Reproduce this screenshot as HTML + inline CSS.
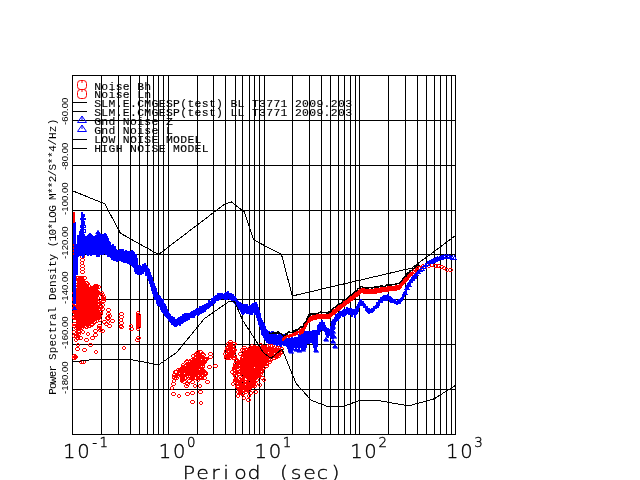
<!DOCTYPE html>
<html lang="en"><head><meta charset="utf-8"><title>Power Spectral Density</title>
<style>html,body{margin:0;padding:0;background:#fff;overflow:hidden}svg{display:block}text{font-family:"DejaVu Sans","Liberation Sans",sans-serif;font-weight:200;fill:#000}.m{font-family:"DejaVu Sans","Liberation Sans",sans-serif;font-weight:200}</style></head><body>
<svg width="640" height="480" viewBox="0 0 640 480">
<rect x="0" y="0" width="640" height="480" fill="#fff"/>
<text text-anchor="middle" x="97.60 104.77 111.94 119.11 126.28 133.45 140.62 147.79" y="89.50" style="font-family:'Liberation Mono','DejaVu Sans Mono',monospace;font-weight:400;font-size:11.4px;stroke:#000;stroke-width:0.12px">Noise Bh</text>
<text text-anchor="middle" x="97.60 104.77 111.94 119.11 126.28 133.45 140.62 147.79" y="98.46" style="font-family:'Liberation Mono','DejaVu Sans Mono',monospace;font-weight:400;font-size:11.4px;stroke:#000;stroke-width:0.12px">Noise Ln</text>
<text text-anchor="middle" x="97.60 104.77 111.94 119.11 126.28 133.45 140.62 147.79 154.96 162.13 169.30 176.47 183.64 190.81 197.98 205.15 212.32 219.49 226.66 233.83 241.00 248.17 255.34 262.51 269.68 276.85 284.02 291.19 298.36 305.53 312.70 319.87 327.04 334.21 341.38 348.55" y="107.42" style="font-family:'Liberation Mono','DejaVu Sans Mono',monospace;font-weight:400;font-size:11.4px;stroke:#000;stroke-width:0.12px">SLM.E.CMGESP(test) BL T3771 2009.203</text>
<text text-anchor="middle" x="97.60 104.77 111.94 119.11 126.28 133.45 140.62 147.79 154.96 162.13 169.30 176.47 183.64 190.81 197.98 205.15 212.32 219.49 226.66 233.83 241.00 248.17 255.34 262.51 269.68 276.85 284.02 291.19 298.36 305.53 312.70 319.87 327.04 334.21 341.38 348.55" y="116.38" style="font-family:'Liberation Mono','DejaVu Sans Mono',monospace;font-weight:400;font-size:11.4px;stroke:#000;stroke-width:0.12px">SLM.E.CMGESP(test) LL T3771 2009.203</text>
<text text-anchor="middle" x="97.60 104.77 111.94 119.11 126.28 133.45 140.62 147.79 154.96 162.13 169.30" y="125.34" style="font-family:'Liberation Mono','DejaVu Sans Mono',monospace;font-weight:400;font-size:11.4px;stroke:#000;stroke-width:0.12px">Gnd Noise Z</text>
<text text-anchor="middle" x="97.60 104.77 111.94 119.11 126.28 133.45 140.62 147.79 154.96 162.13 169.30" y="134.30" style="font-family:'Liberation Mono','DejaVu Sans Mono',monospace;font-weight:400;font-size:11.4px;stroke:#000;stroke-width:0.12px">Gnd Noise L</text>
<text text-anchor="middle" x="97.60 104.77 111.94 119.11 126.28 133.45 140.62 147.79 154.96 162.13 169.30 176.47 183.64 190.81 197.98" y="143.26" style="font-family:'Liberation Mono','DejaVu Sans Mono',monospace;font-weight:400;font-size:11.4px;stroke:#000;stroke-width:0.12px">LOW NOISE MODEL</text>
<text text-anchor="middle" x="97.60 104.77 111.94 119.11 126.28 133.45 140.62 147.79 154.96 162.13 169.30 176.47 183.64 190.81 197.98 205.15" y="152.22" style="font-family:'Liberation Mono','DejaVu Sans Mono',monospace;font-weight:400;font-size:11.4px;stroke:#000;stroke-width:0.12px">HIGH NOISE MODEL</text>
<text transform="translate(68.3 124.9) rotate(-90) " style="font-family:'Liberation Sans','DejaVu Sans',sans-serif;font-weight:400;font-size:9.6px">-60.00</text>
<text transform="translate(68.3 169.9) rotate(-90) " style="font-family:'Liberation Sans','DejaVu Sans',sans-serif;font-weight:400;font-size:9.6px">-80.00</text>
<text transform="translate(68.3 214.9) rotate(-90) " style="font-family:'Liberation Sans','DejaVu Sans',sans-serif;font-weight:400;font-size:9.6px">-100.00</text>
<text transform="translate(68.3 258.9) rotate(-90) " style="font-family:'Liberation Sans','DejaVu Sans',sans-serif;font-weight:400;font-size:9.6px">-120.00</text>
<text transform="translate(68.3 303.9) rotate(-90) " style="font-family:'Liberation Sans','DejaVu Sans',sans-serif;font-weight:400;font-size:9.6px">-140.00</text>
<text transform="translate(68.3 348.9) rotate(-90) " style="font-family:'Liberation Sans','DejaVu Sans',sans-serif;font-weight:400;font-size:9.6px">-160.00</text>
<text transform="translate(68.3 393.9) rotate(-90) " style="font-family:'Liberation Sans','DejaVu Sans',sans-serif;font-weight:400;font-size:9.6px">-180.00</text>
<text text-anchor="middle" transform="translate(55.6 394.1) rotate(-90)" x="2.60 8.42 14.23 20.05 25.87 31.68 37.50 44.14 50.79 57.43 64.08 70.72 77.37 84.01 90.66 97.30 103.91 110.53 117.14 123.75 130.36 136.97 143.59 150.20 156.10 162.00 167.90 173.80 179.70 185.60 191.50 197.40 203.30 209.20 215.10 221.00 226.90 233.18 239.46 245.74 252.02 258.30 265.20 272.10" y="0" style="font-family:'Liberation Mono','DejaVu Sans Mono',monospace;font-weight:400;font-size:11px">Power Spectral Density (10*LOG M**2/S**4/Hz)</text>
<text text-anchor="middle" x="69.2 83.4" y="458.3" style="font-family:'DejaVu Sans','Liberation Sans',sans-serif;font-weight:200;font-size:19.6px;stroke:#000;stroke-width:0.35px">10</text>
<text text-anchor="middle" x="94.7 103.7" y="446.8" style="font-family:'DejaVu Sans','Liberation Sans',sans-serif;font-weight:200;font-size:13.4px;stroke:#000;stroke-width:0.35px">-1</text>
<text text-anchor="middle" x="164.9 179.2" y="458.3" style="font-family:'DejaVu Sans','Liberation Sans',sans-serif;font-weight:200;font-size:19.6px;stroke:#000;stroke-width:0.35px">10</text>
<text text-anchor="middle" x="191.2" y="446.8" style="font-family:'DejaVu Sans','Liberation Sans',sans-serif;font-weight:200;font-size:13.4px;stroke:#000;stroke-width:0.35px">0</text>
<text text-anchor="middle" x="260.7 274.9" y="458.3" style="font-family:'DejaVu Sans','Liberation Sans',sans-serif;font-weight:200;font-size:19.6px;stroke:#000;stroke-width:0.35px">10</text>
<text text-anchor="middle" x="287.0" y="446.8" style="font-family:'DejaVu Sans','Liberation Sans',sans-serif;font-weight:200;font-size:13.4px;stroke:#000;stroke-width:0.35px">1</text>
<text text-anchor="middle" x="356.4 370.6" y="458.3" style="font-family:'DejaVu Sans','Liberation Sans',sans-serif;font-weight:200;font-size:19.6px;stroke:#000;stroke-width:0.35px">10</text>
<text text-anchor="middle" x="382.8" y="446.8" style="font-family:'DejaVu Sans','Liberation Sans',sans-serif;font-weight:200;font-size:13.4px;stroke:#000;stroke-width:0.35px">2</text>
<text text-anchor="middle" x="452.2 466.4" y="458.3" style="font-family:'DejaVu Sans','Liberation Sans',sans-serif;font-weight:200;font-size:19.6px;stroke:#000;stroke-width:0.35px">10</text>
<text text-anchor="middle" x="478.5" y="446.8" style="font-family:'DejaVu Sans','Liberation Sans',sans-serif;font-weight:200;font-size:13.4px;stroke:#000;stroke-width:0.35px">3</text>
<text text-anchor="middle" transform="scale(1.15 1)" x="164.35 176.09 187.39 196.52 209.13 220.87 233.04 246.96 257.39 269.13 280.43 291.74" y="479" style="font-family:'DejaVu Sans','Liberation Sans',sans-serif;font-weight:200;font-size:17.8px;stroke:#000;stroke-width:0.35px">Period (sec)</text>
<path d="M72.5 75V435M101.5 75V435M118.5 75V435M130.5 75V435M139.5 75V435M147.5 75V435M153.5 75V435M158.5 75V435M163.5 75V435M168.5 75V435M197.5 75V435M213.5 75V435M225.5 75V435M235.5 75V435M242.5 75V435M249.5 75V435M254.5 75V435M259.5 75V435M264.5 75V435M292.5 75V435M309.5 75V435M321.5 75V435M330.5 75V435M338.5 75V435M344.5 75V435M350.5 75V435M355.5 75V435M359.5 75V435M388.5 75V435M405.5 75V435M417.5 75V435M426.5 75V435M434.5 75V435M440.5 75V435M446.5 75V435M451.5 75V435M455.5 75V435M72 75.5H456M72 120.5H456M72 165.5H456M72 210.5H456M72 254.5H456M72 299.5H456M72 344.5H456M72 389.5H456M72 434.5H456" stroke="#000" stroke-width="1" fill="none" shape-rendering="crispEdges"/>
<rect x="77.5" y="80.5" width="9" height="9" rx="3" ry="3" fill="none" stroke="#f00" stroke-width="1"/><path d="M82 80.5V83" stroke="#f00" stroke-width="1"/><rect x="77.5" y="89.5" width="9" height="9" rx="3" ry="3" fill="none" stroke="#f00" stroke-width="1"/><path d="M82 89.5V92" stroke="#f00" stroke-width="1"/><path d="M72 102.5H87" stroke="#000" stroke-width="1" shape-rendering="crispEdges"/><path d="M72 111.5H87" stroke="#000" stroke-width="1" shape-rendering="crispEdges"/><path d="M72 139.5H87" stroke="#000" stroke-width="1" shape-rendering="crispEdges"/><path d="M72 148.5H87" stroke="#000" stroke-width="1" shape-rendering="crispEdges"/><path d="M77.5 122.5L82 116L86.5 122.5ZM82 116V120" fill="none" stroke="#00f" stroke-width="1"/><path d="M77.5 131.5L82 125L86.5 131.5ZM82 125V129" fill="none" stroke="#00f" stroke-width="1"/>
<path d="M76 292L78 279L84 279L89 286L93 291L95 287L97 287L97 300L98 309L98 317L94 321L88 325L80 327L77 336L76 338ZM244 351L255 346L267 347L283 349L283 351L275 357L266 360L262 370L258 378L253 383L247 380L241 372L239 362L241 355ZM183 368L190 362L197 357L201 362L199 372L191 376L184 375Z" fill="#f00" shape-rendering="crispEdges"/><path d="M86 303h1v1h-1zM80 320h1v1h-1zM85 293h1v1h-1zM96 313h1v1h-1zM82 308h1v1h-1zM80 325h1v1h-1zM81 306h1v1h-1zM86 322h1v1h-1zM88 286h1v1h-1zM77 332h1v1h-1zM87 286h1v1h-1zM82 320h1v1h-1zM92 312h1v1h-1zM78 297h1v1h-1zM244 358h1v1h-1zM273 351h1v1h-1zM251 354h1v1h-1zM258 348h1v1h-1zM276 352h1v1h-1zM251 355h1v1h-1zM242 357h1v1h-1zM260 368h1v1h-1zM254 367h1v1h-1zM262 357h1v1h-1zM246 365h1v1h-1zM268 352h1v1h-1zM274 353h1v1h-1zM249 371h1v1h-1zM268 348h1v1h-1zM245 372h1v1h-1zM187 370h1v1h-1zM185 368h1v1h-1zM188 368h1v1h-1zM198 366h1v1h-1zM187 365h1v1h-1zM187 372h1v1h-1zM191 374h1v1h-1zM193 371h1v1h-1zM190 362h1v1h-1zM184 373h1v1h-1zM191 368h1v1h-1zM189 366h1v1h-1zM190 374h1v1h-1zM199 364h1v1h-1zM189 364h1v1h-1zM187 365h1v1h-1zM183 370h1v1h-1zM199 360h1v1h-1zM190 364h1v1h-1zM193 360h1v1h-1zM188 366h1v1h-1zM193 359h1v1h-1z" fill="#fff" shape-rendering="crispEdges"/><path d="M409 272h3v1h-3zM409 275h3v1h-3zM408 273h1v2h-1zM412 273h1v2h-1zM411 272h3v1h-3zM411 275h3v1h-3zM410 273h1v2h-1zM414 273h1v2h-1zM413 270h2v1h-2zM413 273h2v1h-2zM412 271h1v2h-1zM415 271h1v2h-1zM414 268h2v1h-2zM414 271h2v1h-2zM413 269h1v2h-1zM416 269h1v2h-1zM416 268h3v1h-3zM416 271h3v1h-3zM415 269h1v2h-1zM419 269h1v2h-1zM417 266h3v1h-3zM417 269h3v1h-3zM416 267h1v2h-1zM420 267h1v2h-1zM419 266h3v1h-3zM419 269h3v1h-3zM418 267h1v2h-1zM422 267h1v2h-1zM422 264h2v1h-2zM422 267h2v1h-2zM421 265h1v2h-1zM424 265h1v2h-1zM425 264h2v1h-2zM425 267h2v1h-2zM424 265h1v2h-1zM427 265h1v2h-1zM428 264h2v1h-2zM428 267h2v1h-2zM427 265h1v2h-1zM430 265h1v2h-1zM431 263h2v1h-2zM431 266h2v1h-2zM430 264h1v2h-1zM433 264h1v2h-1zM434 264h3v1h-3zM434 267h3v1h-3zM433 265h1v2h-1zM437 265h1v2h-1zM437 264h3v1h-3zM437 267h3v1h-3zM436 265h1v2h-1zM440 265h1v2h-1zM440 265h3v1h-3zM440 268h3v1h-3zM439 266h1v2h-1zM443 266h1v2h-1zM443 266h2v1h-2zM443 269h2v1h-2zM442 267h1v2h-1zM445 267h1v2h-1zM446 268h2v1h-2zM446 271h2v1h-2zM445 269h1v2h-1zM448 269h1v2h-1zM449 268h3v1h-3zM449 271h3v1h-3zM448 269h1v2h-1zM452 269h1v2h-1zM81 276h2v1h-2zM81 279h2v1h-2zM80 277h1v2h-1zM83 277h1v2h-1zM86 318h2v1h-2zM86 321h2v1h-2zM85 319h1v2h-1zM88 319h1v2h-1zM84 291h2v1h-2zM84 294h2v1h-2zM83 292h1v2h-1zM86 292h1v2h-1zM79 276h2v1h-2zM79 279h2v1h-2zM78 277h1v2h-1zM81 277h1v2h-1zM82 302h3v1h-3zM82 305h3v1h-3zM81 303h1v2h-1zM85 303h1v2h-1zM91 287h3v1h-3zM91 290h3v1h-3zM90 288h1v2h-1zM94 288h1v2h-1zM86 288h3v1h-3zM86 291h3v1h-3zM85 289h1v2h-1zM89 289h1v2h-1zM95 289h2v1h-2zM95 292h2v1h-2zM94 290h1v2h-1zM97 290h1v2h-1zM79 324h2v1h-2zM79 327h2v1h-2zM78 325h1v2h-1zM81 325h1v2h-1zM86 286h3v1h-3zM86 289h3v1h-3zM85 287h1v2h-1zM89 287h1v2h-1zM79 302h2v1h-2zM79 305h2v1h-2zM78 303h1v2h-1zM81 303h1v2h-1zM77 300h3v1h-3zM77 303h3v1h-3zM76 301h1v2h-1zM80 301h1v2h-1zM77 278h3v1h-3zM77 281h3v1h-3zM76 279h1v2h-1zM80 279h1v2h-1zM75 300h3v1h-3zM75 303h3v1h-3zM74 301h1v2h-1zM78 301h1v2h-1zM91 299h2v1h-2zM91 302h2v1h-2zM90 300h1v2h-1zM93 300h1v2h-1zM83 296h3v1h-3zM83 299h3v1h-3zM82 297h1v2h-1zM86 297h1v2h-1zM81 297h3v1h-3zM81 300h3v1h-3zM80 298h1v2h-1zM84 298h1v2h-1zM95 302h2v1h-2zM95 305h2v1h-2zM94 303h1v2h-1zM97 303h1v2h-1zM75 305h2v1h-2zM75 308h2v1h-2zM74 306h1v2h-1zM77 306h1v2h-1zM78 298h3v1h-3zM78 301h3v1h-3zM77 299h1v2h-1zM81 299h1v2h-1zM97 291h2v1h-2zM97 294h2v1h-2zM96 292h1v2h-1zM99 292h1v2h-1zM82 292h3v1h-3zM82 295h3v1h-3zM81 293h1v2h-1zM85 293h1v2h-1zM98 314h3v1h-3zM98 317h3v1h-3zM97 315h1v2h-1zM101 315h1v2h-1zM80 322h2v1h-2zM80 325h2v1h-2zM79 323h1v2h-1zM82 323h1v2h-1zM81 292h3v1h-3zM81 295h3v1h-3zM80 293h1v2h-1zM84 293h1v2h-1zM73 324h3v1h-3zM73 327h3v1h-3zM72 325h1v2h-1zM76 325h1v2h-1zM97 316h3v1h-3zM97 319h3v1h-3zM96 317h1v2h-1zM100 317h1v2h-1zM79 306h3v1h-3zM79 309h3v1h-3zM78 307h1v2h-1zM82 307h1v2h-1zM83 290h2v1h-2zM83 293h2v1h-2zM82 291h1v2h-1zM85 291h1v2h-1zM84 306h3v1h-3zM84 309h3v1h-3zM83 307h1v2h-1zM87 307h1v2h-1zM89 296h3v1h-3zM89 299h3v1h-3zM88 297h1v2h-1zM92 297h1v2h-1zM81 298h3v1h-3zM81 301h3v1h-3zM80 299h1v2h-1zM84 299h1v2h-1zM78 324h3v1h-3zM78 327h3v1h-3zM77 325h1v2h-1zM81 325h1v2h-1zM79 278h2v1h-2zM79 281h2v1h-2zM78 279h1v2h-1zM81 279h1v2h-1zM74 310h3v1h-3zM74 313h3v1h-3zM73 311h1v2h-1zM77 311h1v2h-1zM80 280h3v1h-3zM80 283h3v1h-3zM79 281h1v2h-1zM83 281h1v2h-1zM75 307h3v1h-3zM75 310h3v1h-3zM74 308h1v2h-1zM78 308h1v2h-1zM91 304h2v1h-2zM91 307h2v1h-2zM90 305h1v2h-1zM93 305h1v2h-1zM79 302h3v1h-3zM79 305h3v1h-3zM78 303h1v2h-1zM82 303h1v2h-1zM89 318h3v1h-3zM89 321h3v1h-3zM88 319h1v2h-1zM92 319h1v2h-1zM95 294h3v1h-3zM95 297h3v1h-3zM94 295h1v2h-1zM98 295h1v2h-1zM87 298h3v1h-3zM87 301h3v1h-3zM86 299h1v2h-1zM90 299h1v2h-1zM92 287h2v1h-2zM92 290h2v1h-2zM91 288h1v2h-1zM94 288h1v2h-1zM79 290h3v1h-3zM79 293h3v1h-3zM78 291h1v2h-1zM82 291h1v2h-1zM77 332h3v1h-3zM77 335h3v1h-3zM76 333h1v2h-1zM80 333h1v2h-1zM88 296h3v1h-3zM88 299h3v1h-3zM87 297h1v2h-1zM91 297h1v2h-1zM86 290h3v1h-3zM86 293h3v1h-3zM85 291h1v2h-1zM89 291h1v2h-1zM94 317h3v1h-3zM94 320h3v1h-3zM93 318h1v2h-1zM97 318h1v2h-1zM74 294h3v1h-3zM74 297h3v1h-3zM73 295h1v2h-1zM77 295h1v2h-1zM76 286h3v1h-3zM76 289h3v1h-3zM75 287h1v2h-1zM79 287h1v2h-1zM99 312h3v1h-3zM99 315h3v1h-3zM98 313h1v2h-1zM102 313h1v2h-1zM95 304h3v1h-3zM95 307h3v1h-3zM94 305h1v2h-1zM98 305h1v2h-1zM80 326h3v1h-3zM80 329h3v1h-3zM79 327h1v2h-1zM83 327h1v2h-1zM89 315h2v1h-2zM89 318h2v1h-2zM88 316h1v2h-1zM91 316h1v2h-1zM79 298h2v1h-2zM79 301h2v1h-2zM78 299h1v2h-1zM81 299h1v2h-1zM77 288h3v1h-3zM77 291h3v1h-3zM76 289h1v2h-1zM80 289h1v2h-1zM79 314h2v1h-2zM79 317h2v1h-2zM78 315h1v2h-1zM81 315h1v2h-1zM90 288h2v1h-2zM90 291h2v1h-2zM89 289h1v2h-1zM92 289h1v2h-1zM73 296h2v1h-2zM73 299h2v1h-2zM72 297h1v2h-1zM75 297h1v2h-1zM91 286h3v1h-3zM91 289h3v1h-3zM90 287h1v2h-1zM94 287h1v2h-1zM81 288h3v1h-3zM81 291h3v1h-3zM80 289h1v2h-1zM84 289h1v2h-1zM93 310h3v1h-3zM93 313h3v1h-3zM92 311h1v2h-1zM96 311h1v2h-1zM75 280h2v1h-2zM75 283h2v1h-2zM74 281h1v2h-1zM77 281h1v2h-1zM83 310h3v1h-3zM83 313h3v1h-3zM82 311h1v2h-1zM86 311h1v2h-1zM77 320h3v1h-3zM77 323h3v1h-3zM76 321h1v2h-1zM80 321h1v2h-1zM83 292h3v1h-3zM83 295h3v1h-3zM82 293h1v2h-1zM86 293h1v2h-1zM81 312h3v1h-3zM81 315h3v1h-3zM80 313h1v2h-1zM84 313h1v2h-1zM83 302h2v1h-2zM83 305h2v1h-2zM82 303h1v2h-1zM85 303h1v2h-1zM83 287h3v1h-3zM83 290h3v1h-3zM82 288h1v2h-1zM86 288h1v2h-1zM92 288h3v1h-3zM92 291h3v1h-3zM91 289h1v2h-1zM95 289h1v2h-1zM73 334h3v1h-3zM73 337h3v1h-3zM72 335h1v2h-1zM76 335h1v2h-1zM85 284h3v1h-3zM85 287h3v1h-3zM84 285h1v2h-1zM88 285h1v2h-1zM73 310h3v1h-3zM73 313h3v1h-3zM72 311h1v2h-1zM76 311h1v2h-1zM75 315h3v1h-3zM75 318h3v1h-3zM74 316h1v2h-1zM78 316h1v2h-1zM83 308h3v1h-3zM83 311h3v1h-3zM82 309h1v2h-1zM86 309h1v2h-1zM77 292h3v1h-3zM77 295h3v1h-3zM76 293h1v2h-1zM80 293h1v2h-1zM76 306h2v1h-2zM76 309h2v1h-2zM75 307h1v2h-1zM78 307h1v2h-1zM78 282h2v1h-2zM78 285h2v1h-2zM77 283h1v2h-1zM80 283h1v2h-1zM97 300h3v1h-3zM97 303h3v1h-3zM96 301h1v2h-1zM100 301h1v2h-1zM97 315h3v1h-3zM97 318h3v1h-3zM96 316h1v2h-1zM100 316h1v2h-1zM95 284h3v1h-3zM95 287h3v1h-3zM94 285h1v2h-1zM98 285h1v2h-1zM93 288h3v1h-3zM93 291h3v1h-3zM92 289h1v2h-1zM96 289h1v2h-1zM95 286h3v1h-3zM95 289h3v1h-3zM94 287h1v2h-1zM98 287h1v2h-1zM79 300h3v1h-3zM79 303h3v1h-3zM78 301h1v2h-1zM82 301h1v2h-1zM87 300h3v1h-3zM87 303h3v1h-3zM86 301h1v2h-1zM90 301h1v2h-1zM76 290h2v1h-2zM76 293h2v1h-2zM75 291h1v2h-1zM78 291h1v2h-1zM74 311h3v1h-3zM74 314h3v1h-3zM73 312h1v2h-1zM77 312h1v2h-1zM89 310h3v1h-3zM89 313h3v1h-3zM88 311h1v2h-1zM92 311h1v2h-1zM89 294h3v1h-3zM89 297h3v1h-3zM88 295h1v2h-1zM92 295h1v2h-1zM84 312h2v1h-2zM84 315h2v1h-2zM83 313h1v2h-1zM86 313h1v2h-1zM84 318h2v1h-2zM84 321h2v1h-2zM83 319h1v2h-1zM86 319h1v2h-1zM85 303h3v1h-3zM85 306h3v1h-3zM84 304h1v2h-1zM88 304h1v2h-1zM73 315h3v1h-3zM73 318h3v1h-3zM72 316h1v2h-1zM76 316h1v2h-1zM85 290h3v1h-3zM85 293h3v1h-3zM84 291h1v2h-1zM88 291h1v2h-1zM85 286h3v1h-3zM85 289h3v1h-3zM84 287h1v2h-1zM88 287h1v2h-1zM85 281h3v1h-3zM85 284h3v1h-3zM84 282h1v2h-1zM88 282h1v2h-1zM77 302h3v1h-3zM77 305h3v1h-3zM76 303h1v2h-1zM80 303h1v2h-1zM75 303h2v1h-2zM75 306h2v1h-2zM74 304h1v2h-1zM77 304h1v2h-1zM86 299h3v1h-3zM86 302h3v1h-3zM85 300h1v2h-1zM89 300h1v2h-1zM97 285h3v1h-3zM97 288h3v1h-3zM96 286h1v2h-1zM100 286h1v2h-1zM75 297h2v1h-2zM75 300h2v1h-2zM74 298h1v2h-1zM77 298h1v2h-1zM97 292h2v1h-2zM97 295h2v1h-2zM96 293h1v2h-1zM99 293h1v2h-1zM94 284h3v1h-3zM94 287h3v1h-3zM93 285h1v2h-1zM97 285h1v2h-1zM79 292h3v1h-3zM79 295h3v1h-3zM78 293h1v2h-1zM82 293h1v2h-1zM86 295h3v1h-3zM86 298h3v1h-3zM85 296h1v2h-1zM89 296h1v2h-1zM74 286h3v1h-3zM74 289h3v1h-3zM73 287h1v2h-1zM77 287h1v2h-1zM77 336h2v1h-2zM77 339h2v1h-2zM76 337h1v2h-1zM79 337h1v2h-1zM77 326h3v1h-3zM77 329h3v1h-3zM76 327h1v2h-1zM80 327h1v2h-1zM76 309h3v1h-3zM76 312h3v1h-3zM75 310h1v2h-1zM79 310h1v2h-1zM89 298h2v1h-2zM89 301h2v1h-2zM88 299h1v2h-1zM91 299h1v2h-1zM95 310h3v1h-3zM95 313h3v1h-3zM94 311h1v2h-1zM98 311h1v2h-1zM89 300h2v1h-2zM89 303h2v1h-2zM88 301h1v2h-1zM91 301h1v2h-1zM93 292h3v1h-3zM93 295h3v1h-3zM92 293h1v2h-1zM96 293h1v2h-1zM83 324h3v1h-3zM83 327h3v1h-3zM82 325h1v2h-1zM86 325h1v2h-1zM85 286h3v1h-3zM85 289h3v1h-3zM84 287h1v2h-1zM88 287h1v2h-1zM95 290h3v1h-3zM95 293h3v1h-3zM94 291h1v2h-1zM98 291h1v2h-1zM88 318h3v1h-3zM88 321h3v1h-3zM87 319h1v2h-1zM91 319h1v2h-1zM89 302h2v1h-2zM89 305h2v1h-2zM88 303h1v2h-1zM91 303h1v2h-1zM77 289h2v1h-2zM77 292h2v1h-2zM76 290h1v2h-1zM79 290h1v2h-1zM73 298h2v1h-2zM73 301h2v1h-2zM72 299h1v2h-1zM75 299h1v2h-1zM76 298h3v1h-3zM76 301h3v1h-3zM75 299h1v2h-1zM79 299h1v2h-1zM79 312h3v1h-3zM79 315h3v1h-3zM78 313h1v2h-1zM82 313h1v2h-1zM89 288h2v1h-2zM89 291h2v1h-2zM88 289h1v2h-1zM91 289h1v2h-1zM89 306h3v1h-3zM89 309h3v1h-3zM88 307h1v2h-1zM92 307h1v2h-1zM77 336h2v1h-2zM77 339h2v1h-2zM76 337h1v2h-1zM79 337h1v2h-1zM79 284h3v1h-3zM79 287h3v1h-3zM78 285h1v2h-1zM82 285h1v2h-1zM75 316h3v1h-3zM75 319h3v1h-3zM74 317h1v2h-1zM78 317h1v2h-1zM83 292h3v1h-3zM83 295h3v1h-3zM82 293h1v2h-1zM86 293h1v2h-1zM73 316h2v1h-2zM73 319h2v1h-2zM72 317h1v2h-1zM75 317h1v2h-1zM87 297h3v1h-3zM87 300h3v1h-3zM86 298h1v2h-1zM90 298h1v2h-1zM90 304h2v1h-2zM90 307h2v1h-2zM89 305h1v2h-1zM92 305h1v2h-1zM74 309h2v1h-2zM74 312h2v1h-2zM73 310h1v2h-1zM76 310h1v2h-1zM83 290h3v1h-3zM83 293h3v1h-3zM82 291h1v2h-1zM86 291h1v2h-1zM75 326h3v1h-3zM75 329h3v1h-3zM74 327h1v2h-1zM78 327h1v2h-1zM73 310h3v1h-3zM73 313h3v1h-3zM72 311h1v2h-1zM76 311h1v2h-1zM78 314h3v1h-3zM78 317h3v1h-3zM77 315h1v2h-1zM81 315h1v2h-1zM86 316h3v1h-3zM86 319h3v1h-3zM85 317h1v2h-1zM89 317h1v2h-1zM94 286h3v1h-3zM94 289h3v1h-3zM93 287h1v2h-1zM97 287h1v2h-1zM81 294h3v1h-3zM81 297h3v1h-3zM80 295h1v2h-1zM84 295h1v2h-1zM75 332h3v1h-3zM75 335h3v1h-3zM74 333h1v2h-1zM78 333h1v2h-1zM93 321h2v1h-2zM93 324h2v1h-2zM92 322h1v2h-1zM95 322h1v2h-1zM73 330h2v1h-2zM73 333h2v1h-2zM72 331h1v2h-1zM75 331h1v2h-1zM93 304h3v1h-3zM93 307h3v1h-3zM92 305h1v2h-1zM96 305h1v2h-1zM93 304h3v1h-3zM93 307h3v1h-3zM92 305h1v2h-1zM96 305h1v2h-1zM79 281h2v1h-2zM79 284h2v1h-2zM78 282h1v2h-1zM81 282h1v2h-1zM79 276h2v1h-2zM79 279h2v1h-2zM78 277h1v2h-1zM81 277h1v2h-1zM81 324h2v1h-2zM81 327h2v1h-2zM80 325h1v2h-1zM83 325h1v2h-1zM91 292h2v1h-2zM91 295h2v1h-2zM90 293h1v2h-1zM93 293h1v2h-1zM87 303h2v1h-2zM87 306h2v1h-2zM86 304h1v2h-1zM89 304h1v2h-1zM93 308h3v1h-3zM93 311h3v1h-3zM92 309h1v2h-1zM96 309h1v2h-1zM80 316h3v1h-3zM80 319h3v1h-3zM79 317h1v2h-1zM83 317h1v2h-1zM80 290h3v1h-3zM80 293h3v1h-3zM79 291h1v2h-1zM83 291h1v2h-1zM93 296h3v1h-3zM93 299h3v1h-3zM92 297h1v2h-1zM96 297h1v2h-1zM96 296h3v1h-3zM96 299h3v1h-3zM95 297h1v2h-1zM99 297h1v2h-1zM89 320h3v1h-3zM89 323h3v1h-3zM88 321h1v2h-1zM92 321h1v2h-1zM85 322h3v1h-3zM85 325h3v1h-3zM84 323h1v2h-1zM88 323h1v2h-1zM88 294h2v1h-2zM88 297h2v1h-2zM87 295h1v2h-1zM90 295h1v2h-1zM79 315h3v1h-3zM79 318h3v1h-3zM78 316h1v2h-1zM82 316h1v2h-1zM75 334h3v1h-3zM75 337h3v1h-3zM74 335h1v2h-1zM78 335h1v2h-1zM77 276h3v1h-3zM77 279h3v1h-3zM76 277h1v2h-1zM80 277h1v2h-1zM76 336h3v1h-3zM76 339h3v1h-3zM75 337h1v2h-1zM79 337h1v2h-1zM82 284h3v1h-3zM82 287h3v1h-3zM81 285h1v2h-1zM85 285h1v2h-1zM91 316h2v1h-2zM91 319h2v1h-2zM90 317h1v2h-1zM93 317h1v2h-1zM91 322h3v1h-3zM91 325h3v1h-3zM90 323h1v2h-1zM94 323h1v2h-1zM75 313h3v1h-3zM75 316h3v1h-3zM74 314h1v2h-1zM78 314h1v2h-1zM75 332h3v1h-3zM75 335h3v1h-3zM74 333h1v2h-1zM78 333h1v2h-1zM76 288h2v1h-2zM76 291h2v1h-2zM75 289h1v2h-1zM78 289h1v2h-1zM76 276h3v1h-3zM76 279h3v1h-3zM75 277h1v2h-1zM79 277h1v2h-1zM89 293h3v1h-3zM89 296h3v1h-3zM88 294h1v2h-1zM92 294h1v2h-1zM75 280h3v1h-3zM75 283h3v1h-3zM74 281h1v2h-1zM78 281h1v2h-1zM81 302h3v1h-3zM81 305h3v1h-3zM80 303h1v2h-1zM84 303h1v2h-1zM73 291h3v1h-3zM73 294h3v1h-3zM72 292h1v2h-1zM76 292h1v2h-1zM81 321h3v1h-3zM81 324h3v1h-3zM80 322h1v2h-1zM84 322h1v2h-1zM83 295h3v1h-3zM83 298h3v1h-3zM82 296h1v2h-1zM86 296h1v2h-1zM98 307h3v1h-3zM98 310h3v1h-3zM97 308h1v2h-1zM101 308h1v2h-1zM95 315h3v1h-3zM95 318h3v1h-3zM94 316h1v2h-1zM98 316h1v2h-1zM74 302h3v1h-3zM74 305h3v1h-3zM73 303h1v2h-1zM77 303h1v2h-1zM85 325h3v1h-3zM85 328h3v1h-3zM84 326h1v2h-1zM88 326h1v2h-1zM82 320h3v1h-3zM82 323h3v1h-3zM81 321h1v2h-1zM85 321h1v2h-1zM87 288h3v1h-3zM87 291h3v1h-3zM86 289h1v2h-1zM90 289h1v2h-1zM95 285h3v1h-3zM95 288h3v1h-3zM94 286h1v2h-1zM98 286h1v2h-1zM73 306h3v1h-3zM73 309h3v1h-3zM72 307h1v2h-1zM76 307h1v2h-1zM78 306h2v1h-2zM78 309h2v1h-2zM77 307h1v2h-1zM80 307h1v2h-1zM81 288h3v1h-3zM81 291h3v1h-3zM80 289h1v2h-1zM84 289h1v2h-1zM91 307h3v1h-3zM91 310h3v1h-3zM90 308h1v2h-1zM94 308h1v2h-1zM76 316h3v1h-3zM76 319h3v1h-3zM75 317h1v2h-1zM79 317h1v2h-1zM75 326h3v1h-3zM75 329h3v1h-3zM74 327h1v2h-1zM78 327h1v2h-1zM89 298h3v1h-3zM89 301h3v1h-3zM88 299h1v2h-1zM92 299h1v2h-1zM83 300h2v1h-2zM83 303h2v1h-2zM82 301h1v2h-1zM85 301h1v2h-1zM79 292h2v1h-2zM79 295h2v1h-2zM78 293h1v2h-1zM81 293h1v2h-1zM97 307h3v1h-3zM97 310h3v1h-3zM96 308h1v2h-1zM100 308h1v2h-1zM79 304h2v1h-2zM79 307h2v1h-2zM78 305h1v2h-1zM81 305h1v2h-1zM87 324h3v1h-3zM87 327h3v1h-3zM86 325h1v2h-1zM90 325h1v2h-1zM93 316h3v1h-3zM93 319h3v1h-3zM92 317h1v2h-1zM96 317h1v2h-1zM82 296h3v1h-3zM82 299h3v1h-3zM81 297h1v2h-1zM85 297h1v2h-1zM77 330h3v1h-3zM77 333h3v1h-3zM76 331h1v2h-1zM80 331h1v2h-1zM90 323h3v1h-3zM90 326h3v1h-3zM89 324h1v2h-1zM93 324h1v2h-1zM77 303h2v1h-2zM77 306h2v1h-2zM76 304h1v2h-1zM79 304h1v2h-1zM93 312h3v1h-3zM93 315h3v1h-3zM92 313h1v2h-1zM96 313h1v2h-1zM77 304h3v1h-3zM77 307h3v1h-3zM76 305h1v2h-1zM80 305h1v2h-1zM96 290h3v1h-3zM96 293h3v1h-3zM95 291h1v2h-1zM99 291h1v2h-1zM78 294h3v1h-3zM78 297h3v1h-3zM77 295h1v2h-1zM81 295h1v2h-1zM77 284h2v1h-2zM77 287h2v1h-2zM76 285h1v2h-1zM79 285h1v2h-1zM79 296h3v1h-3zM79 299h3v1h-3zM78 297h1v2h-1zM82 297h1v2h-1zM87 284h3v1h-3zM87 287h3v1h-3zM86 285h1v2h-1zM90 285h1v2h-1zM81 286h2v1h-2zM81 289h2v1h-2zM80 287h1v2h-1zM83 287h1v2h-1zM75 338h2v1h-2zM75 341h2v1h-2zM74 339h1v2h-1zM77 339h1v2h-1zM75 300h3v1h-3zM75 303h3v1h-3zM74 301h1v2h-1zM78 301h1v2h-1zM92 302h2v1h-2zM92 305h2v1h-2zM91 303h1v2h-1zM94 303h1v2h-1zM78 316h2v1h-2zM78 319h2v1h-2zM77 317h1v2h-1zM80 317h1v2h-1zM76 288h3v1h-3zM76 291h3v1h-3zM75 289h1v2h-1zM79 289h1v2h-1zM83 276h3v1h-3zM83 279h3v1h-3zM82 277h1v2h-1zM86 277h1v2h-1zM91 307h3v1h-3zM91 310h3v1h-3zM90 308h1v2h-1zM94 308h1v2h-1zM89 304h2v1h-2zM89 307h2v1h-2zM88 305h1v2h-1zM91 305h1v2h-1zM77 314h3v1h-3zM77 317h3v1h-3zM76 315h1v2h-1zM80 315h1v2h-1zM83 323h2v1h-2zM83 326h2v1h-2zM82 324h1v2h-1zM85 324h1v2h-1zM97 302h3v1h-3zM97 305h3v1h-3zM96 303h1v2h-1zM100 303h1v2h-1zM88 324h3v1h-3zM88 327h3v1h-3zM87 325h1v2h-1zM91 325h1v2h-1zM84 289h3v1h-3zM84 292h3v1h-3zM83 290h1v2h-1zM87 290h1v2h-1zM93 320h3v1h-3zM93 323h3v1h-3zM92 321h1v2h-1zM96 321h1v2h-1zM95 319h3v1h-3zM95 322h3v1h-3zM94 320h1v2h-1zM98 320h1v2h-1zM89 304h2v1h-2zM89 307h2v1h-2zM88 305h1v2h-1zM91 305h1v2h-1zM81 316h3v1h-3zM81 319h3v1h-3zM80 317h1v2h-1zM84 317h1v2h-1zM75 302h3v1h-3zM75 305h3v1h-3zM74 303h1v2h-1zM78 303h1v2h-1zM93 321h2v1h-2zM93 324h2v1h-2zM92 322h1v2h-1zM95 322h1v2h-1zM89 290h3v1h-3zM89 293h3v1h-3zM88 291h1v2h-1zM92 291h1v2h-1zM84 304h3v1h-3zM84 307h3v1h-3zM83 305h1v2h-1zM87 305h1v2h-1zM89 301h3v1h-3zM89 304h3v1h-3zM88 302h1v2h-1zM92 302h1v2h-1zM78 317h3v1h-3zM78 320h3v1h-3zM77 318h1v2h-1zM81 318h1v2h-1zM93 300h2v1h-2zM93 303h2v1h-2zM92 301h1v2h-1zM95 301h1v2h-1zM74 310h3v1h-3zM74 313h3v1h-3zM73 311h1v2h-1zM77 311h1v2h-1zM77 326h3v1h-3zM77 329h3v1h-3zM76 327h1v2h-1zM80 327h1v2h-1zM97 308h3v1h-3zM97 311h3v1h-3zM96 309h1v2h-1zM100 309h1v2h-1zM75 312h3v1h-3zM75 315h3v1h-3zM74 313h1v2h-1zM78 313h1v2h-1zM87 322h3v1h-3zM87 325h3v1h-3zM86 323h1v2h-1zM90 323h1v2h-1zM87 316h3v1h-3zM87 319h3v1h-3zM86 317h1v2h-1zM90 317h1v2h-1zM95 308h3v1h-3zM95 311h3v1h-3zM94 309h1v2h-1zM98 309h1v2h-1zM79 319h3v1h-3zM79 322h3v1h-3zM78 320h1v2h-1zM82 320h1v2h-1zM83 324h3v1h-3zM83 327h3v1h-3zM82 325h1v2h-1zM86 325h1v2h-1zM82 278h2v1h-2zM82 281h2v1h-2zM81 279h1v2h-1zM84 279h1v2h-1zM80 300h3v1h-3zM80 303h3v1h-3zM79 301h1v2h-1zM83 301h1v2h-1zM73 302h3v1h-3zM73 305h3v1h-3zM72 303h1v2h-1zM76 303h1v2h-1zM84 320h2v1h-2zM84 323h2v1h-2zM83 321h1v2h-1zM86 321h1v2h-1zM82 292h3v1h-3zM82 295h3v1h-3zM81 293h1v2h-1zM85 293h1v2h-1zM79 323h3v1h-3zM79 326h3v1h-3zM78 324h1v2h-1zM82 324h1v2h-1zM97 309h2v1h-2zM97 312h2v1h-2zM96 310h1v2h-1zM99 310h1v2h-1zM79 327h2v1h-2zM79 330h2v1h-2zM78 328h1v2h-1zM81 328h1v2h-1zM83 288h3v1h-3zM83 291h3v1h-3zM82 289h1v2h-1zM86 289h1v2h-1zM77 326h2v1h-2zM77 329h2v1h-2zM76 327h1v2h-1zM79 327h1v2h-1zM94 316h2v1h-2zM94 319h2v1h-2zM93 317h1v2h-1zM96 317h1v2h-1zM85 311h3v1h-3zM85 314h3v1h-3zM84 312h1v2h-1zM88 312h1v2h-1zM82 316h3v1h-3zM82 319h3v1h-3zM81 317h1v2h-1zM85 317h1v2h-1zM85 294h3v1h-3zM85 297h3v1h-3zM84 295h1v2h-1zM88 295h1v2h-1zM87 282h2v1h-2zM87 285h2v1h-2zM86 283h1v2h-1zM89 283h1v2h-1zM95 298h3v1h-3zM95 301h3v1h-3zM94 299h1v2h-1zM98 299h1v2h-1zM95 292h3v1h-3zM95 295h3v1h-3zM94 293h1v2h-1zM98 293h1v2h-1zM83 290h2v1h-2zM83 293h2v1h-2zM82 291h1v2h-1zM85 291h1v2h-1zM84 286h3v1h-3zM84 289h3v1h-3zM83 287h1v2h-1zM87 287h1v2h-1zM73 322h3v1h-3zM73 325h3v1h-3zM72 323h1v2h-1zM76 323h1v2h-1zM81 290h3v1h-3zM81 293h3v1h-3zM80 291h1v2h-1zM84 291h1v2h-1zM81 255h3v1h-3zM81 258h3v1h-3zM80 256h1v2h-1zM84 256h1v2h-1zM81 258h3v1h-3zM81 261h3v1h-3zM80 259h1v2h-1zM84 259h1v2h-1zM81 261h2v1h-2zM81 264h2v1h-2zM80 262h1v2h-1zM83 262h1v2h-1zM81 264h3v1h-3zM81 267h3v1h-3zM80 265h1v2h-1zM84 265h1v2h-1zM81 267h3v1h-3zM81 270h3v1h-3zM80 268h1v2h-1zM84 268h1v2h-1zM81 270h3v1h-3zM81 273h3v1h-3zM80 271h1v2h-1zM84 271h1v2h-1zM101 291h2v1h-2zM101 294h2v1h-2zM100 292h1v2h-1zM103 292h1v2h-1zM101 293h3v1h-3zM101 296h3v1h-3zM100 294h1v2h-1zM104 294h1v2h-1zM102 295h3v1h-3zM102 298h3v1h-3zM101 296h1v2h-1zM105 296h1v2h-1zM102 297h3v1h-3zM102 300h3v1h-3zM101 298h1v2h-1zM105 298h1v2h-1zM102 299h3v1h-3zM102 302h3v1h-3zM101 300h1v2h-1zM105 300h1v2h-1zM99 301h2v1h-2zM99 304h2v1h-2zM98 302h1v2h-1zM101 302h1v2h-1zM101 303h3v1h-3zM101 306h3v1h-3zM100 304h1v2h-1zM104 304h1v2h-1zM100 305h3v1h-3zM100 308h3v1h-3zM99 306h1v2h-1zM103 306h1v2h-1zM101 307h3v1h-3zM101 310h3v1h-3zM100 308h1v2h-1zM104 308h1v2h-1zM107 308h3v1h-3zM107 311h3v1h-3zM106 309h1v2h-1zM110 309h1v2h-1zM99 310h3v1h-3zM99 313h3v1h-3zM98 311h1v2h-1zM102 311h1v2h-1zM107 312h3v1h-3zM107 315h3v1h-3zM106 313h1v2h-1zM110 313h1v2h-1zM108 314h3v1h-3zM108 317h3v1h-3zM107 315h1v2h-1zM111 315h1v2h-1zM107 316h3v1h-3zM107 319h3v1h-3zM106 317h1v2h-1zM110 317h1v2h-1zM99 318h2v1h-2zM99 321h2v1h-2zM98 319h1v2h-1zM101 319h1v2h-1zM107 320h2v1h-2zM107 323h2v1h-2zM106 321h1v2h-1zM109 321h1v2h-1zM105 322h3v1h-3zM105 325h3v1h-3zM104 323h1v2h-1zM108 323h1v2h-1zM98 324h3v1h-3zM98 327h3v1h-3zM97 325h1v2h-1zM101 325h1v2h-1zM98 326h3v1h-3zM98 329h3v1h-3zM97 327h1v2h-1zM101 327h1v2h-1zM120 312h3v1h-3zM120 315h3v1h-3zM119 313h1v2h-1zM123 313h1v2h-1zM120 315h3v1h-3zM120 318h3v1h-3zM119 316h1v2h-1zM123 316h1v2h-1zM120 318h2v1h-2zM120 321h2v1h-2zM119 319h1v2h-1zM122 319h1v2h-1zM120 321h3v1h-3zM120 324h3v1h-3zM119 322h1v2h-1zM123 322h1v2h-1zM120 324h2v1h-2zM120 327h2v1h-2zM119 325h1v2h-1zM122 325h1v2h-1zM137 311h2v1h-2zM137 314h2v1h-2zM136 312h1v2h-1zM139 312h1v2h-1zM137 313h3v1h-3zM137 316h3v1h-3zM136 314h1v2h-1zM140 314h1v2h-1zM137 315h3v1h-3zM137 318h3v1h-3zM136 316h1v2h-1zM140 316h1v2h-1zM137 317h3v1h-3zM137 320h3v1h-3zM136 318h1v2h-1zM140 318h1v2h-1zM137 319h3v1h-3zM137 322h3v1h-3zM136 320h1v2h-1zM140 320h1v2h-1zM137 321h3v1h-3zM137 324h3v1h-3zM136 322h1v2h-1zM140 322h1v2h-1zM137 323h3v1h-3zM137 326h3v1h-3zM136 324h1v2h-1zM140 324h1v2h-1zM137 325h3v1h-3zM137 328h3v1h-3zM136 326h1v2h-1zM140 326h1v2h-1zM137 327h2v1h-2zM137 330h2v1h-2zM136 328h1v2h-1zM139 328h1v2h-1zM79 336h3v1h-3zM79 339h3v1h-3zM78 337h1v2h-1zM82 337h1v2h-1zM85 338h3v1h-3zM85 341h3v1h-3zM84 339h1v2h-1zM88 339h1v2h-1zM94 329h3v1h-3zM94 332h3v1h-3zM93 330h1v2h-1zM97 330h1v2h-1zM99 328h3v1h-3zM99 331h3v1h-3zM98 329h1v2h-1zM102 329h1v2h-1zM101 329h3v1h-3zM101 332h3v1h-3zM100 330h1v2h-1zM104 330h1v2h-1zM94 333h3v1h-3zM94 336h3v1h-3zM93 334h1v2h-1zM97 334h1v2h-1zM89 343h3v1h-3zM89 346h3v1h-3zM88 344h1v2h-1zM92 344h1v2h-1zM76 347h3v1h-3zM76 350h3v1h-3zM75 348h1v2h-1zM79 348h1v2h-1zM95 350h2v1h-2zM95 353h2v1h-2zM94 351h1v2h-1zM97 351h1v2h-1zM108 324h3v1h-3zM108 327h3v1h-3zM107 325h1v2h-1zM111 325h1v2h-1zM120 325h3v1h-3zM120 328h3v1h-3zM119 326h1v2h-1zM123 326h1v2h-1zM123 346h2v1h-2zM123 349h2v1h-2zM122 347h1v2h-1zM125 347h1v2h-1zM130 324h2v1h-2zM130 327h2v1h-2zM129 325h1v2h-1zM132 325h1v2h-1zM130 327h3v1h-3zM130 330h3v1h-3zM129 328h1v2h-1zM133 328h1v2h-1zM137 336h3v1h-3zM137 339h3v1h-3zM136 337h1v2h-1zM140 337h1v2h-1zM136 338h3v1h-3zM136 341h3v1h-3zM135 339h1v2h-1zM139 339h1v2h-1zM73 354h3v1h-3zM73 357h3v1h-3zM72 355h1v2h-1zM76 355h1v2h-1zM74 355h3v1h-3zM74 358h3v1h-3zM73 356h1v2h-1zM77 356h1v2h-1zM73 356h3v1h-3zM73 359h3v1h-3zM72 357h1v2h-1zM76 357h1v2h-1zM80 360h3v1h-3zM80 363h3v1h-3zM79 361h1v2h-1zM83 361h1v2h-1zM82 360h3v1h-3zM82 363h3v1h-3zM81 361h1v2h-1zM85 361h1v2h-1zM82 330h2v1h-2zM82 333h2v1h-2zM81 331h1v2h-1zM84 331h1v2h-1zM87 332h2v1h-2zM87 335h2v1h-2zM86 333h1v2h-1zM89 333h1v2h-1zM91 336h3v1h-3zM91 339h3v1h-3zM90 337h1v2h-1zM94 337h1v2h-1zM77 343h2v1h-2zM77 346h2v1h-2zM76 344h1v2h-1zM79 344h1v2h-1zM83 348h3v1h-3zM83 351h3v1h-3zM82 349h1v2h-1zM86 349h1v2h-1zM103 320h3v1h-3zM103 323h3v1h-3zM102 321h1v2h-1zM106 321h1v2h-1zM106 316h3v1h-3zM106 319h3v1h-3zM105 317h1v2h-1zM109 317h1v2h-1zM111 319h3v1h-3zM111 322h3v1h-3zM110 320h1v2h-1zM114 320h1v2h-1zM205 371h2v1h-2zM205 374h2v1h-2zM204 372h1v2h-1zM207 372h1v2h-1zM199 360h3v1h-3zM199 363h3v1h-3zM198 361h1v2h-1zM202 361h1v2h-1zM199 354h2v1h-2zM199 357h2v1h-2zM198 355h1v2h-1zM201 355h1v2h-1zM202 369h3v1h-3zM202 372h3v1h-3zM201 370h1v2h-1zM205 370h1v2h-1zM199 371h2v1h-2zM199 374h2v1h-2zM198 372h1v2h-1zM201 372h1v2h-1zM203 376h3v1h-3zM203 379h3v1h-3zM202 377h1v2h-1zM206 377h1v2h-1zM201 355h3v1h-3zM201 358h3v1h-3zM200 356h1v2h-1zM204 356h1v2h-1zM195 366h3v1h-3zM195 369h3v1h-3zM194 367h1v2h-1zM198 367h1v2h-1zM197 363h3v1h-3zM197 366h3v1h-3zM196 364h1v2h-1zM200 364h1v2h-1zM202 368h2v1h-2zM202 371h2v1h-2zM201 369h1v2h-1zM204 369h1v2h-1zM189 366h3v1h-3zM189 369h3v1h-3zM188 367h1v2h-1zM192 367h1v2h-1zM201 364h3v1h-3zM201 367h3v1h-3zM200 365h1v2h-1zM204 365h1v2h-1zM191 371h3v1h-3zM191 374h3v1h-3zM190 372h1v2h-1zM194 372h1v2h-1zM201 361h3v1h-3zM201 364h3v1h-3zM200 362h1v2h-1zM204 362h1v2h-1zM186 382h3v1h-3zM186 385h3v1h-3zM185 383h1v2h-1zM189 383h1v2h-1zM174 370h3v1h-3zM174 373h3v1h-3zM173 371h1v2h-1zM177 371h1v2h-1zM193 372h3v1h-3zM193 375h3v1h-3zM192 373h1v2h-1zM196 373h1v2h-1zM203 360h3v1h-3zM203 363h3v1h-3zM202 361h1v2h-1zM206 361h1v2h-1zM188 379h3v1h-3zM188 382h3v1h-3zM187 380h1v2h-1zM191 380h1v2h-1zM173 373h2v1h-2zM173 376h2v1h-2zM172 374h1v2h-1zM175 374h1v2h-1zM193 360h3v1h-3zM193 363h3v1h-3zM192 361h1v2h-1zM196 361h1v2h-1zM201 360h2v1h-2zM201 363h2v1h-2zM200 361h1v2h-1zM203 361h1v2h-1zM188 366h3v1h-3zM188 369h3v1h-3zM187 367h1v2h-1zM191 367h1v2h-1zM198 356h3v1h-3zM198 359h3v1h-3zM197 357h1v2h-1zM201 357h1v2h-1zM187 362h3v1h-3zM187 365h3v1h-3zM186 363h1v2h-1zM190 363h1v2h-1zM191 376h3v1h-3zM191 379h3v1h-3zM190 377h1v2h-1zM194 377h1v2h-1zM181 376h3v1h-3zM181 379h3v1h-3zM180 377h1v2h-1zM184 377h1v2h-1zM185 366h3v1h-3zM185 369h3v1h-3zM184 367h1v2h-1zM188 367h1v2h-1zM181 366h2v1h-2zM181 369h2v1h-2zM180 367h1v2h-1zM183 367h1v2h-1zM199 360h2v1h-2zM199 363h2v1h-2zM198 361h1v2h-1zM201 361h1v2h-1zM191 370h3v1h-3zM191 373h3v1h-3zM190 371h1v2h-1zM194 371h1v2h-1zM199 350h3v1h-3zM199 353h3v1h-3zM198 351h1v2h-1zM202 351h1v2h-1zM197 378h2v1h-2zM197 381h2v1h-2zM196 379h1v2h-1zM199 379h1v2h-1zM193 371h3v1h-3zM193 374h3v1h-3zM192 372h1v2h-1zM196 372h1v2h-1zM193 370h2v1h-2zM193 373h2v1h-2zM192 371h1v2h-1zM195 371h1v2h-1zM193 372h3v1h-3zM193 375h3v1h-3zM192 373h1v2h-1zM196 373h1v2h-1zM192 372h2v1h-2zM192 375h2v1h-2zM191 373h1v2h-1zM194 373h1v2h-1zM179 371h3v1h-3zM179 374h3v1h-3zM178 372h1v2h-1zM182 372h1v2h-1zM187 374h3v1h-3zM187 377h3v1h-3zM186 375h1v2h-1zM190 375h1v2h-1zM173 375h2v1h-2zM173 378h2v1h-2zM172 376h1v2h-1zM175 376h1v2h-1zM203 371h3v1h-3zM203 374h3v1h-3zM202 372h1v2h-1zM206 372h1v2h-1zM184 376h3v1h-3zM184 379h3v1h-3zM183 377h1v2h-1zM187 377h1v2h-1zM199 368h3v1h-3zM199 371h3v1h-3zM198 369h1v2h-1zM202 369h1v2h-1zM186 359h2v1h-2zM186 362h2v1h-2zM185 360h1v2h-1zM188 360h1v2h-1zM187 370h3v1h-3zM187 373h3v1h-3zM186 371h1v2h-1zM190 371h1v2h-1zM175 376h3v1h-3zM175 379h3v1h-3zM174 377h1v2h-1zM178 377h1v2h-1zM191 380h3v1h-3zM191 383h3v1h-3zM190 381h1v2h-1zM194 381h1v2h-1zM185 368h3v1h-3zM185 371h3v1h-3zM184 369h1v2h-1zM188 369h1v2h-1zM188 362h2v1h-2zM188 365h2v1h-2zM187 363h1v2h-1zM190 363h1v2h-1zM175 370h2v1h-2zM175 373h2v1h-2zM174 371h1v2h-1zM177 371h1v2h-1zM195 352h2v1h-2zM195 355h2v1h-2zM194 353h1v2h-1zM197 353h1v2h-1zM201 352h3v1h-3zM201 355h3v1h-3zM200 353h1v2h-1zM204 353h1v2h-1zM180 374h2v1h-2zM180 377h2v1h-2zM179 375h1v2h-1zM182 375h1v2h-1zM198 373h3v1h-3zM198 376h3v1h-3zM197 374h1v2h-1zM201 374h1v2h-1zM201 374h2v1h-2zM201 377h2v1h-2zM200 375h1v2h-1zM203 375h1v2h-1zM175 370h3v1h-3zM175 373h3v1h-3zM174 371h1v2h-1zM178 371h1v2h-1zM196 364h2v1h-2zM196 367h2v1h-2zM195 365h1v2h-1zM198 365h1v2h-1zM203 357h3v1h-3zM203 360h3v1h-3zM202 358h1v2h-1zM206 358h1v2h-1zM194 376h3v1h-3zM194 379h3v1h-3zM193 377h1v2h-1zM197 377h1v2h-1zM197 354h3v1h-3zM197 357h3v1h-3zM196 355h1v2h-1zM200 355h1v2h-1zM201 365h3v1h-3zM201 368h3v1h-3zM200 366h1v2h-1zM204 366h1v2h-1zM191 363h2v1h-2zM191 366h2v1h-2zM190 364h1v2h-1zM193 364h1v2h-1zM195 353h3v1h-3zM195 356h3v1h-3zM194 354h1v2h-1zM198 354h1v2h-1zM199 360h3v1h-3zM199 363h3v1h-3zM198 361h1v2h-1zM202 361h1v2h-1zM193 370h3v1h-3zM193 373h3v1h-3zM192 371h1v2h-1zM196 371h1v2h-1zM186 362h3v1h-3zM186 365h3v1h-3zM185 363h1v2h-1zM189 363h1v2h-1zM199 368h3v1h-3zM199 371h3v1h-3zM198 369h1v2h-1zM202 369h1v2h-1zM200 360h3v1h-3zM200 363h3v1h-3zM199 361h1v2h-1zM203 361h1v2h-1zM200 369h3v1h-3zM200 372h3v1h-3zM199 370h1v2h-1zM203 370h1v2h-1zM182 363h2v1h-2zM182 366h2v1h-2zM181 364h1v2h-1zM184 364h1v2h-1zM202 361h3v1h-3zM202 364h3v1h-3zM201 362h1v2h-1zM205 362h1v2h-1zM195 369h3v1h-3zM195 372h3v1h-3zM194 370h1v2h-1zM198 370h1v2h-1zM203 376h3v1h-3zM203 379h3v1h-3zM202 377h1v2h-1zM206 377h1v2h-1zM191 376h3v1h-3zM191 379h3v1h-3zM190 377h1v2h-1zM194 377h1v2h-1zM200 376h3v1h-3zM200 379h3v1h-3zM199 377h1v2h-1zM203 377h1v2h-1zM201 368h2v1h-2zM201 371h2v1h-2zM200 369h1v2h-1zM203 369h1v2h-1zM181 378h2v1h-2zM181 381h2v1h-2zM180 379h1v2h-1zM183 379h1v2h-1zM199 372h3v1h-3zM199 375h3v1h-3zM198 373h1v2h-1zM202 373h1v2h-1zM203 360h2v1h-2zM203 363h2v1h-2zM202 361h1v2h-1zM205 361h1v2h-1zM199 355h3v1h-3zM199 358h3v1h-3zM198 356h1v2h-1zM202 356h1v2h-1zM179 369h3v1h-3zM179 372h3v1h-3zM178 370h1v2h-1zM182 370h1v2h-1zM195 364h3v1h-3zM195 367h3v1h-3zM194 365h1v2h-1zM198 365h1v2h-1zM197 376h2v1h-2zM197 379h2v1h-2zM196 377h1v2h-1zM199 377h1v2h-1zM199 375h3v1h-3zM199 378h3v1h-3zM198 376h1v2h-1zM202 376h1v2h-1zM179 368h2v1h-2zM179 371h2v1h-2zM178 369h1v2h-1zM181 369h1v2h-1zM189 364h3v1h-3zM189 367h3v1h-3zM188 365h1v2h-1zM192 365h1v2h-1zM192 354h3v1h-3zM192 357h3v1h-3zM191 355h1v2h-1zM195 355h1v2h-1zM195 360h2v1h-2zM195 363h2v1h-2zM194 361h1v2h-1zM197 361h1v2h-1zM191 362h2v1h-2zM191 365h2v1h-2zM190 363h1v2h-1zM193 363h1v2h-1zM193 376h3v1h-3zM193 379h3v1h-3zM192 377h1v2h-1zM196 377h1v2h-1zM177 368h2v1h-2zM177 371h2v1h-2zM176 369h1v2h-1zM179 369h1v2h-1zM183 366h2v1h-2zM183 369h2v1h-2zM182 367h1v2h-1zM185 367h1v2h-1zM189 368h3v1h-3zM189 371h3v1h-3zM188 369h1v2h-1zM192 369h1v2h-1zM181 375h3v1h-3zM181 378h3v1h-3zM180 376h1v2h-1zM184 376h1v2h-1zM186 381h2v1h-2zM186 384h2v1h-2zM185 382h1v2h-1zM188 382h1v2h-1zM198 376h3v1h-3zM198 379h3v1h-3zM197 377h1v2h-1zM201 377h1v2h-1zM205 357h3v1h-3zM205 360h3v1h-3zM204 358h1v2h-1zM208 358h1v2h-1zM201 364h3v1h-3zM201 367h3v1h-3zM200 365h1v2h-1zM204 365h1v2h-1zM205 357h2v1h-2zM205 360h2v1h-2zM204 358h1v2h-1zM207 358h1v2h-1zM191 370h3v1h-3zM191 373h3v1h-3zM190 371h1v2h-1zM194 371h1v2h-1zM185 364h3v1h-3zM185 367h3v1h-3zM184 365h1v2h-1zM188 365h1v2h-1zM183 380h3v1h-3zM183 383h3v1h-3zM182 381h1v2h-1zM186 381h1v2h-1zM173 376h3v1h-3zM173 379h3v1h-3zM172 377h1v2h-1zM176 377h1v2h-1zM196 370h2v1h-2zM196 373h2v1h-2zM195 371h1v2h-1zM198 371h1v2h-1zM177 374h2v1h-2zM177 377h2v1h-2zM176 375h1v2h-1zM179 375h1v2h-1zM204 372h3v1h-3zM204 375h3v1h-3zM203 373h1v2h-1zM207 373h1v2h-1zM182 368h3v1h-3zM182 371h3v1h-3zM181 369h1v2h-1zM185 369h1v2h-1zM197 352h2v1h-2zM197 355h2v1h-2zM196 353h1v2h-1zM199 353h1v2h-1zM177 372h3v1h-3zM177 375h3v1h-3zM176 373h1v2h-1zM180 373h1v2h-1zM203 356h2v1h-2zM203 359h2v1h-2zM202 357h1v2h-1zM205 357h1v2h-1zM202 353h3v1h-3zM202 356h3v1h-3zM201 354h1v2h-1zM205 354h1v2h-1zM193 364h3v1h-3zM193 367h3v1h-3zM192 365h1v2h-1zM196 365h1v2h-1zM183 376h3v1h-3zM183 379h3v1h-3zM182 377h1v2h-1zM186 377h1v2h-1zM188 370h3v1h-3zM188 373h3v1h-3zM187 371h1v2h-1zM191 371h1v2h-1zM173 373h3v1h-3zM173 376h3v1h-3zM172 374h1v2h-1zM176 374h1v2h-1zM201 357h3v1h-3zM201 360h3v1h-3zM200 358h1v2h-1zM204 358h1v2h-1zM181 377h2v1h-2zM181 380h2v1h-2zM180 378h1v2h-1zM183 378h1v2h-1zM189 359h2v1h-2zM189 362h2v1h-2zM188 360h1v2h-1zM191 360h1v2h-1zM203 371h3v1h-3zM203 374h3v1h-3zM202 372h1v2h-1zM206 372h1v2h-1zM181 379h2v1h-2zM181 382h2v1h-2zM180 380h1v2h-1zM183 380h1v2h-1zM181 370h3v1h-3zM181 373h3v1h-3zM180 371h1v2h-1zM184 371h1v2h-1zM191 358h3v1h-3zM191 361h3v1h-3zM190 359h1v2h-1zM194 359h1v2h-1zM189 374h3v1h-3zM189 377h3v1h-3zM188 375h1v2h-1zM192 375h1v2h-1zM184 366h3v1h-3zM184 369h3v1h-3zM183 367h1v2h-1zM187 367h1v2h-1zM197 370h2v1h-2zM197 373h2v1h-2zM196 371h1v2h-1zM199 371h1v2h-1zM181 368h2v1h-2zM181 371h2v1h-2zM180 369h1v2h-1zM183 369h1v2h-1zM191 360h2v1h-2zM191 363h2v1h-2zM190 361h1v2h-1zM193 361h1v2h-1zM183 368h2v1h-2zM183 371h2v1h-2zM182 369h1v2h-1zM185 369h1v2h-1zM195 372h3v1h-3zM195 375h3v1h-3zM194 373h1v2h-1zM198 373h1v2h-1zM193 358h3v1h-3zM193 361h3v1h-3zM192 359h1v2h-1zM196 359h1v2h-1zM181 370h3v1h-3zM181 373h3v1h-3zM180 371h1v2h-1zM184 371h1v2h-1zM189 370h3v1h-3zM189 373h3v1h-3zM188 371h1v2h-1zM192 371h1v2h-1zM187 372h2v1h-2zM187 375h2v1h-2zM186 373h1v2h-1zM189 373h1v2h-1zM199 365h3v1h-3zM199 368h3v1h-3zM198 366h1v2h-1zM202 366h1v2h-1zM190 373h3v1h-3zM190 376h3v1h-3zM189 374h1v2h-1zM193 374h1v2h-1zM198 362h3v1h-3zM198 365h3v1h-3zM197 363h1v2h-1zM201 363h1v2h-1zM191 364h2v1h-2zM191 367h2v1h-2zM190 365h1v2h-1zM193 365h1v2h-1zM195 372h3v1h-3zM195 375h3v1h-3zM194 373h1v2h-1zM198 373h1v2h-1zM199 361h2v1h-2zM199 364h2v1h-2zM198 362h1v2h-1zM201 362h1v2h-1zM195 362h3v1h-3zM195 365h3v1h-3zM194 363h1v2h-1zM198 363h1v2h-1zM197 356h3v1h-3zM197 359h3v1h-3zM196 357h1v2h-1zM200 357h1v2h-1zM191 366h3v1h-3zM191 369h3v1h-3zM190 367h1v2h-1zM194 367h1v2h-1zM191 366h3v1h-3zM191 369h3v1h-3zM190 367h1v2h-1zM194 367h1v2h-1zM181 370h3v1h-3zM181 373h3v1h-3zM180 371h1v2h-1zM184 371h1v2h-1zM193 366h2v1h-2zM193 369h2v1h-2zM192 367h1v2h-1zM195 367h1v2h-1zM191 370h3v1h-3zM191 373h3v1h-3zM190 371h1v2h-1zM194 371h1v2h-1zM181 373h2v1h-2zM181 376h2v1h-2zM180 374h1v2h-1zM183 374h1v2h-1zM195 355h3v1h-3zM195 358h3v1h-3zM194 356h1v2h-1zM198 356h1v2h-1zM182 365h3v1h-3zM182 368h3v1h-3zM181 366h1v2h-1zM185 366h1v2h-1zM191 360h3v1h-3zM191 363h3v1h-3zM190 361h1v2h-1zM194 361h1v2h-1zM182 367h3v1h-3zM182 370h3v1h-3zM181 368h1v2h-1zM185 368h1v2h-1zM199 357h3v1h-3zM199 360h3v1h-3zM198 358h1v2h-1zM202 358h1v2h-1zM192 370h2v1h-2zM192 373h2v1h-2zM191 371h1v2h-1zM194 371h1v2h-1zM183 372h3v1h-3zM183 375h3v1h-3zM182 373h1v2h-1zM186 373h1v2h-1zM201 362h3v1h-3zM201 365h3v1h-3zM200 363h1v2h-1zM204 363h1v2h-1zM189 372h3v1h-3zM189 375h3v1h-3zM188 373h1v2h-1zM192 373h1v2h-1zM191 362h2v1h-2zM191 365h2v1h-2zM190 363h1v2h-1zM193 363h1v2h-1zM187 364h3v1h-3zM187 367h3v1h-3zM186 365h1v2h-1zM190 365h1v2h-1zM191 375h3v1h-3zM191 378h3v1h-3zM190 376h1v2h-1zM194 376h1v2h-1zM201 360h3v1h-3zM201 363h3v1h-3zM200 361h1v2h-1zM204 361h1v2h-1zM189 368h3v1h-3zM189 371h3v1h-3zM188 369h1v2h-1zM192 369h1v2h-1zM187 366h3v1h-3zM187 369h3v1h-3zM186 367h1v2h-1zM190 367h1v2h-1zM193 372h3v1h-3zM193 375h3v1h-3zM192 373h1v2h-1zM196 373h1v2h-1zM180 368h2v1h-2zM180 371h2v1h-2zM179 369h1v2h-1zM182 369h1v2h-1zM185 369h3v1h-3zM185 372h3v1h-3zM184 370h1v2h-1zM188 370h1v2h-1zM185 366h3v1h-3zM185 369h3v1h-3zM184 367h1v2h-1zM188 367h1v2h-1zM185 366h2v1h-2zM185 369h2v1h-2zM184 367h1v2h-1zM187 367h1v2h-1zM189 375h2v1h-2zM189 378h2v1h-2zM188 376h1v2h-1zM191 376h1v2h-1zM185 360h3v1h-3zM185 363h3v1h-3zM184 361h1v2h-1zM188 361h1v2h-1zM194 356h2v1h-2zM194 359h2v1h-2zM193 357h1v2h-1zM196 357h1v2h-1zM191 360h3v1h-3zM191 363h3v1h-3zM190 361h1v2h-1zM194 361h1v2h-1zM189 366h2v1h-2zM189 369h2v1h-2zM188 367h1v2h-1zM191 367h1v2h-1zM189 360h2v1h-2zM189 363h2v1h-2zM188 361h1v2h-1zM191 361h1v2h-1zM191 372h3v1h-3zM191 375h3v1h-3zM190 373h1v2h-1zM194 373h1v2h-1zM193 366h3v1h-3zM193 369h3v1h-3zM192 367h1v2h-1zM196 367h1v2h-1zM194 358h2v1h-2zM194 361h2v1h-2zM193 359h1v2h-1zM196 359h1v2h-1zM195 364h3v1h-3zM195 367h3v1h-3zM194 365h1v2h-1zM198 365h1v2h-1zM191 368h2v1h-2zM191 371h2v1h-2zM190 369h1v2h-1zM193 369h1v2h-1zM190 361h3v1h-3zM190 364h3v1h-3zM189 362h1v2h-1zM193 362h1v2h-1zM191 362h3v1h-3zM191 365h3v1h-3zM190 363h1v2h-1zM194 363h1v2h-1zM171 386h2v1h-2zM171 389h2v1h-2zM170 387h1v2h-1zM173 387h1v2h-1zM172 392h3v1h-3zM172 395h3v1h-3zM171 393h1v2h-1zM175 393h1v2h-1zM178 394h2v1h-2zM178 397h2v1h-2zM177 395h1v2h-1zM180 395h1v2h-1zM186 392h3v1h-3zM186 395h3v1h-3zM185 393h1v2h-1zM189 393h1v2h-1zM191 391h3v1h-3zM191 394h3v1h-3zM190 392h1v2h-1zM194 392h1v2h-1zM191 400h3v1h-3zM191 403h3v1h-3zM190 401h1v2h-1zM194 401h1v2h-1zM199 390h3v1h-3zM199 393h3v1h-3zM198 391h1v2h-1zM202 391h1v2h-1zM200 401h2v1h-2zM200 404h2v1h-2zM199 402h1v2h-1zM202 402h1v2h-1zM209 355h3v1h-3zM209 358h3v1h-3zM208 356h1v2h-1zM212 356h1v2h-1zM209 352h3v1h-3zM209 355h3v1h-3zM208 353h1v2h-1zM212 353h1v2h-1zM214 364h3v1h-3zM214 367h3v1h-3zM213 365h1v2h-1zM217 365h1v2h-1zM206 380h3v1h-3zM206 383h3v1h-3zM205 381h1v2h-1zM209 381h1v2h-1zM199 384h2v1h-2zM199 387h2v1h-2zM198 385h1v2h-1zM201 385h1v2h-1zM194 384h2v1h-2zM194 387h2v1h-2zM193 385h1v2h-1zM196 385h1v2h-1zM185 384h3v1h-3zM185 387h3v1h-3zM184 385h1v2h-1zM188 385h1v2h-1zM173 379h2v1h-2zM173 382h2v1h-2zM172 380h1v2h-1zM175 380h1v2h-1zM172 382h3v1h-3zM172 385h3v1h-3zM171 383h1v2h-1zM175 383h1v2h-1zM197 350h2v1h-2zM197 353h2v1h-2zM196 351h1v2h-1zM199 351h1v2h-1zM197 353h3v1h-3zM197 356h3v1h-3zM196 354h1v2h-1zM200 354h1v2h-1zM208 365h3v1h-3zM208 368h3v1h-3zM207 366h1v2h-1zM211 366h1v2h-1zM228 354h3v1h-3zM228 357h3v1h-3zM227 355h1v2h-1zM231 355h1v2h-1zM227 349h3v1h-3zM227 352h3v1h-3zM226 350h1v2h-1zM230 350h1v2h-1zM229 344h3v1h-3zM229 347h3v1h-3zM228 345h1v2h-1zM232 345h1v2h-1zM233 342h3v1h-3zM233 345h3v1h-3zM232 343h1v2h-1zM236 343h1v2h-1zM225 354h3v1h-3zM225 357h3v1h-3zM224 355h1v2h-1zM228 355h1v2h-1zM229 340h3v1h-3zM229 343h3v1h-3zM228 341h1v2h-1zM232 341h1v2h-1zM229 346h3v1h-3zM229 349h3v1h-3zM228 347h1v2h-1zM232 347h1v2h-1zM227 356h2v1h-2zM227 359h2v1h-2zM226 357h1v2h-1zM229 357h1v2h-1zM232 342h3v1h-3zM232 345h3v1h-3zM231 343h1v2h-1zM235 343h1v2h-1zM227 345h3v1h-3zM227 348h3v1h-3zM226 346h1v2h-1zM230 346h1v2h-1zM231 350h3v1h-3zM231 353h3v1h-3zM230 351h1v2h-1zM234 351h1v2h-1zM233 354h3v1h-3zM233 357h3v1h-3zM232 355h1v2h-1zM236 355h1v2h-1zM229 352h3v1h-3zM229 355h3v1h-3zM228 353h1v2h-1zM232 353h1v2h-1zM232 352h2v1h-2zM232 355h2v1h-2zM231 353h1v2h-1zM234 353h1v2h-1zM229 353h2v1h-2zM229 356h2v1h-2zM228 354h1v2h-1zM231 354h1v2h-1zM232 356h3v1h-3zM232 359h3v1h-3zM231 357h1v2h-1zM235 357h1v2h-1zM225 354h2v1h-2zM225 357h2v1h-2zM224 355h1v2h-1zM227 355h1v2h-1zM224 352h3v1h-3zM224 355h3v1h-3zM223 353h1v2h-1zM227 353h1v2h-1zM231 348h3v1h-3zM231 351h3v1h-3zM230 349h1v2h-1zM234 349h1v2h-1zM229 353h3v1h-3zM229 356h3v1h-3zM228 354h1v2h-1zM232 354h1v2h-1zM233 350h2v1h-2zM233 353h2v1h-2zM232 351h1v2h-1zM235 351h1v2h-1zM228 347h3v1h-3zM228 350h3v1h-3zM227 348h1v2h-1zM231 348h1v2h-1zM229 352h3v1h-3zM229 355h3v1h-3zM228 353h1v2h-1zM232 353h1v2h-1zM227 346h2v1h-2zM227 349h2v1h-2zM226 347h1v2h-1zM229 347h1v2h-1zM230 346h3v1h-3zM230 349h3v1h-3zM229 347h1v2h-1zM233 347h1v2h-1zM227 353h2v1h-2zM227 356h2v1h-2zM226 354h1v2h-1zM229 354h1v2h-1zM233 348h2v1h-2zM233 351h2v1h-2zM232 349h1v2h-1zM235 349h1v2h-1zM229 342h3v1h-3zM229 345h3v1h-3zM228 343h1v2h-1zM232 343h1v2h-1zM227 342h3v1h-3zM227 345h3v1h-3zM226 343h1v2h-1zM230 343h1v2h-1zM231 350h3v1h-3zM231 353h3v1h-3zM230 351h1v2h-1zM234 351h1v2h-1zM225 356h2v1h-2zM225 359h2v1h-2zM224 357h1v2h-1zM227 357h1v2h-1zM227 354h3v1h-3zM227 357h3v1h-3zM226 355h1v2h-1zM230 355h1v2h-1zM233 356h3v1h-3zM233 359h3v1h-3zM232 357h1v2h-1zM236 357h1v2h-1zM226 346h3v1h-3zM226 349h3v1h-3zM225 347h1v2h-1zM229 347h1v2h-1zM225 349h2v1h-2zM225 352h2v1h-2zM224 350h1v2h-1zM227 350h1v2h-1zM229 356h2v1h-2zM229 359h2v1h-2zM228 357h1v2h-1zM231 357h1v2h-1zM233 348h3v1h-3zM233 351h3v1h-3zM232 349h1v2h-1zM236 349h1v2h-1zM229 351h3v1h-3zM229 354h3v1h-3zM228 352h1v2h-1zM232 352h1v2h-1zM229 345h3v1h-3zM229 348h3v1h-3zM228 346h1v2h-1zM232 346h1v2h-1zM231 345h3v1h-3zM231 348h3v1h-3zM230 346h1v2h-1zM234 346h1v2h-1zM259 348h3v1h-3zM259 351h3v1h-3zM258 349h1v2h-1zM262 349h1v2h-1zM251 364h2v1h-2zM251 367h2v1h-2zM250 365h1v2h-1zM253 365h1v2h-1zM257 366h3v1h-3zM257 369h3v1h-3zM256 367h1v2h-1zM260 367h1v2h-1zM249 370h3v1h-3zM249 373h3v1h-3zM248 371h1v2h-1zM252 371h1v2h-1zM273 352h3v1h-3zM273 355h3v1h-3zM272 353h1v2h-1zM276 353h1v2h-1zM248 394h2v1h-2zM248 397h2v1h-2zM247 395h1v2h-1zM250 395h1v2h-1zM237 390h2v1h-2zM237 393h2v1h-2zM236 391h1v2h-1zM239 391h1v2h-1zM253 350h3v1h-3zM253 353h3v1h-3zM252 351h1v2h-1zM256 351h1v2h-1zM247 370h3v1h-3zM247 373h3v1h-3zM246 371h1v2h-1zM250 371h1v2h-1zM257 352h3v1h-3zM257 355h3v1h-3zM256 353h1v2h-1zM260 353h1v2h-1zM241 376h3v1h-3zM241 379h3v1h-3zM240 377h1v2h-1zM244 377h1v2h-1zM263 361h3v1h-3zM263 364h3v1h-3zM262 362h1v2h-1zM266 362h1v2h-1zM234 364h3v1h-3zM234 367h3v1h-3zM233 365h1v2h-1zM237 365h1v2h-1zM247 386h3v1h-3zM247 389h3v1h-3zM246 387h1v2h-1zM250 387h1v2h-1zM242 368h2v1h-2zM242 371h2v1h-2zM241 369h1v2h-1zM244 369h1v2h-1zM260 356h3v1h-3zM260 359h3v1h-3zM259 357h1v2h-1zM263 357h1v2h-1zM253 349h2v1h-2zM253 352h2v1h-2zM252 350h1v2h-1zM255 350h1v2h-1zM240 382h2v1h-2zM240 385h2v1h-2zM239 383h1v2h-1zM242 383h1v2h-1zM241 370h2v1h-2zM241 373h2v1h-2zM240 371h1v2h-1zM243 371h1v2h-1zM273 346h2v1h-2zM273 349h2v1h-2zM272 347h1v2h-1zM275 347h1v2h-1zM249 380h2v1h-2zM249 383h2v1h-2zM248 381h1v2h-1zM251 381h1v2h-1zM250 352h3v1h-3zM250 355h3v1h-3zM249 353h1v2h-1zM253 353h1v2h-1zM245 348h3v1h-3zM245 351h3v1h-3zM244 349h1v2h-1zM248 349h1v2h-1zM250 366h3v1h-3zM250 369h3v1h-3zM249 367h1v2h-1zM253 367h1v2h-1zM251 346h3v1h-3zM251 349h3v1h-3zM250 347h1v2h-1zM254 347h1v2h-1zM263 356h2v1h-2zM263 359h2v1h-2zM262 357h1v2h-1zM265 357h1v2h-1zM247 374h2v1h-2zM247 377h2v1h-2zM246 375h1v2h-1zM249 375h1v2h-1zM252 380h2v1h-2zM252 383h2v1h-2zM251 381h1v2h-1zM254 381h1v2h-1zM243 358h3v1h-3zM243 361h3v1h-3zM242 359h1v2h-1zM246 359h1v2h-1zM273 356h2v1h-2zM273 359h2v1h-2zM272 357h1v2h-1zM275 357h1v2h-1zM241 362h2v1h-2zM241 365h2v1h-2zM240 363h1v2h-1zM243 363h1v2h-1zM247 372h3v1h-3zM247 375h3v1h-3zM246 373h1v2h-1zM250 373h1v2h-1zM238 370h3v1h-3zM238 373h3v1h-3zM237 371h1v2h-1zM241 371h1v2h-1zM251 364h2v1h-2zM251 367h2v1h-2zM250 365h1v2h-1zM253 365h1v2h-1zM245 352h3v1h-3zM245 355h3v1h-3zM244 353h1v2h-1zM248 353h1v2h-1zM247 355h3v1h-3zM247 358h3v1h-3zM246 356h1v2h-1zM250 356h1v2h-1zM234 378h3v1h-3zM234 381h3v1h-3zM233 379h1v2h-1zM237 379h1v2h-1zM249 350h3v1h-3zM249 353h3v1h-3zM248 351h1v2h-1zM252 351h1v2h-1zM268 348h3v1h-3zM268 351h3v1h-3zM267 349h1v2h-1zM271 349h1v2h-1zM246 386h3v1h-3zM246 389h3v1h-3zM245 387h1v2h-1zM249 387h1v2h-1zM239 366h3v1h-3zM239 369h3v1h-3zM238 367h1v2h-1zM242 367h1v2h-1zM240 361h2v1h-2zM240 364h2v1h-2zM239 362h1v2h-1zM242 362h1v2h-1zM243 366h2v1h-2zM243 369h2v1h-2zM242 367h1v2h-1zM245 367h1v2h-1zM239 380h2v1h-2zM239 383h2v1h-2zM238 381h1v2h-1zM241 381h1v2h-1zM245 390h2v1h-2zM245 393h2v1h-2zM244 391h1v2h-1zM247 391h1v2h-1zM262 362h3v1h-3zM262 365h3v1h-3zM261 363h1v2h-1zM265 363h1v2h-1zM245 374h3v1h-3zM245 377h3v1h-3zM244 375h1v2h-1zM248 375h1v2h-1zM243 388h2v1h-2zM243 391h2v1h-2zM242 389h1v2h-1zM245 389h1v2h-1zM239 370h2v1h-2zM239 373h2v1h-2zM238 371h1v2h-1zM241 371h1v2h-1zM259 356h3v1h-3zM259 359h3v1h-3zM258 357h1v2h-1zM262 357h1v2h-1zM248 363h2v1h-2zM248 366h2v1h-2zM247 364h1v2h-1zM250 364h1v2h-1zM266 348h2v1h-2zM266 351h2v1h-2zM265 349h1v2h-1zM268 349h1v2h-1zM261 362h3v1h-3zM261 365h3v1h-3zM260 363h1v2h-1zM264 363h1v2h-1zM257 358h3v1h-3zM257 361h3v1h-3zM256 359h1v2h-1zM260 359h1v2h-1zM235 359h3v1h-3zM235 362h3v1h-3zM234 360h1v2h-1zM238 360h1v2h-1zM243 349h3v1h-3zM243 352h3v1h-3zM242 350h1v2h-1zM246 350h1v2h-1zM269 358h3v1h-3zM269 361h3v1h-3zM268 359h1v2h-1zM272 359h1v2h-1zM276 350h3v1h-3zM276 353h3v1h-3zM275 351h1v2h-1zM279 351h1v2h-1zM250 364h3v1h-3zM250 367h3v1h-3zM249 365h1v2h-1zM253 365h1v2h-1zM245 387h3v1h-3zM245 390h3v1h-3zM244 388h1v2h-1zM248 388h1v2h-1zM250 376h2v1h-2zM250 379h2v1h-2zM249 377h1v2h-1zM252 377h1v2h-1zM241 348h3v1h-3zM241 351h3v1h-3zM240 349h1v2h-1zM244 349h1v2h-1zM269 344h3v1h-3zM269 347h3v1h-3zM268 345h1v2h-1zM272 345h1v2h-1zM242 358h3v1h-3zM242 361h3v1h-3zM241 359h1v2h-1zM245 359h1v2h-1zM251 344h2v1h-2zM251 347h2v1h-2zM250 345h1v2h-1zM253 345h1v2h-1zM248 376h3v1h-3zM248 379h3v1h-3zM247 377h1v2h-1zM251 377h1v2h-1zM241 386h2v1h-2zM241 389h2v1h-2zM240 387h1v2h-1zM243 387h1v2h-1zM245 366h3v1h-3zM245 369h3v1h-3zM244 367h1v2h-1zM248 367h1v2h-1zM263 345h3v1h-3zM263 348h3v1h-3zM262 346h1v2h-1zM266 346h1v2h-1zM245 348h3v1h-3zM245 351h3v1h-3zM244 349h1v2h-1zM248 349h1v2h-1zM273 354h3v1h-3zM273 357h3v1h-3zM272 355h1v2h-1zM276 355h1v2h-1zM237 379h2v1h-2zM237 382h2v1h-2zM236 380h1v2h-1zM239 380h1v2h-1zM252 382h3v1h-3zM252 385h3v1h-3zM251 383h1v2h-1zM255 383h1v2h-1zM255 346h3v1h-3zM255 349h3v1h-3zM254 347h1v2h-1zM258 347h1v2h-1zM239 382h3v1h-3zM239 385h3v1h-3zM238 383h1v2h-1zM242 383h1v2h-1zM234 380h3v1h-3zM234 383h3v1h-3zM233 381h1v2h-1zM237 381h1v2h-1zM273 356h3v1h-3zM273 359h3v1h-3zM272 357h1v2h-1zM276 357h1v2h-1zM250 364h3v1h-3zM250 367h3v1h-3zM249 365h1v2h-1zM253 365h1v2h-1zM243 359h2v1h-2zM243 362h2v1h-2zM242 360h1v2h-1zM245 360h1v2h-1zM239 380h2v1h-2zM239 383h2v1h-2zM238 381h1v2h-1zM241 381h1v2h-1zM266 355h3v1h-3zM266 358h3v1h-3zM265 356h1v2h-1zM269 356h1v2h-1zM245 370h3v1h-3zM245 373h3v1h-3zM244 371h1v2h-1zM248 371h1v2h-1zM250 358h3v1h-3zM250 361h3v1h-3zM249 359h1v2h-1zM253 359h1v2h-1zM277 350h2v1h-2zM277 353h2v1h-2zM276 351h1v2h-1zM279 351h1v2h-1zM261 360h3v1h-3zM261 363h3v1h-3zM260 361h1v2h-1zM264 361h1v2h-1zM271 352h2v1h-2zM271 355h2v1h-2zM270 353h1v2h-1zM273 353h1v2h-1zM255 382h2v1h-2zM255 385h2v1h-2zM254 383h1v2h-1zM257 383h1v2h-1zM275 348h2v1h-2zM275 351h2v1h-2zM274 349h1v2h-1zM277 349h1v2h-1zM247 362h3v1h-3zM247 365h3v1h-3zM246 363h1v2h-1zM250 363h1v2h-1zM247 353h3v1h-3zM247 356h3v1h-3zM246 354h1v2h-1zM250 354h1v2h-1zM238 360h3v1h-3zM238 363h3v1h-3zM237 361h1v2h-1zM241 361h1v2h-1zM256 362h2v1h-2zM256 365h2v1h-2zM255 363h1v2h-1zM258 363h1v2h-1zM271 347h3v1h-3zM271 350h3v1h-3zM270 348h1v2h-1zM274 348h1v2h-1zM261 348h3v1h-3zM261 351h3v1h-3zM260 349h1v2h-1zM264 349h1v2h-1zM257 366h3v1h-3zM257 369h3v1h-3zM256 367h1v2h-1zM260 367h1v2h-1zM241 371h3v1h-3zM241 374h3v1h-3zM240 372h1v2h-1zM244 372h1v2h-1zM245 356h2v1h-2zM245 359h2v1h-2zM244 357h1v2h-1zM247 357h1v2h-1zM247 352h2v1h-2zM247 355h2v1h-2zM246 353h1v2h-1zM249 353h1v2h-1zM279 352h2v1h-2zM279 355h2v1h-2zM278 353h1v2h-1zM281 353h1v2h-1zM241 386h2v1h-2zM241 389h2v1h-2zM240 387h1v2h-1zM243 387h1v2h-1zM249 362h2v1h-2zM249 365h2v1h-2zM248 363h1v2h-1zM251 363h1v2h-1zM260 362h2v1h-2zM260 365h2v1h-2zM259 363h1v2h-1zM262 363h1v2h-1zM275 355h3v1h-3zM275 358h3v1h-3zM274 356h1v2h-1zM278 356h1v2h-1zM234 372h2v1h-2zM234 375h2v1h-2zM233 373h1v2h-1zM236 373h1v2h-1zM257 351h3v1h-3zM257 354h3v1h-3zM256 352h1v2h-1zM260 352h1v2h-1zM247 373h2v1h-2zM247 376h2v1h-2zM246 374h1v2h-1zM249 374h1v2h-1zM236 378h2v1h-2zM236 381h2v1h-2zM235 379h1v2h-1zM238 379h1v2h-1zM241 366h3v1h-3zM241 369h3v1h-3zM240 367h1v2h-1zM244 367h1v2h-1zM281 347h2v1h-2zM281 350h2v1h-2zM280 348h1v2h-1zM283 348h1v2h-1zM234 366h3v1h-3zM234 369h3v1h-3zM233 367h1v2h-1zM237 367h1v2h-1zM241 380h3v1h-3zM241 383h3v1h-3zM240 381h1v2h-1zM244 381h1v2h-1zM253 358h3v1h-3zM253 361h3v1h-3zM252 359h1v2h-1zM256 359h1v2h-1zM253 360h3v1h-3zM253 363h3v1h-3zM252 361h1v2h-1zM256 361h1v2h-1zM255 378h3v1h-3zM255 381h3v1h-3zM254 379h1v2h-1zM258 379h1v2h-1zM241 358h2v1h-2zM241 361h2v1h-2zM240 359h1v2h-1zM243 359h1v2h-1zM255 372h2v1h-2zM255 375h2v1h-2zM254 373h1v2h-1zM257 373h1v2h-1zM250 353h3v1h-3zM250 356h3v1h-3zM249 354h1v2h-1zM253 354h1v2h-1zM237 360h2v1h-2zM237 363h2v1h-2zM236 361h1v2h-1zM239 361h1v2h-1zM235 378h3v1h-3zM235 381h3v1h-3zM234 379h1v2h-1zM238 379h1v2h-1zM263 358h2v1h-2zM263 361h2v1h-2zM262 359h1v2h-1zM265 359h1v2h-1zM247 360h3v1h-3zM247 363h3v1h-3zM246 361h1v2h-1zM250 361h1v2h-1zM241 378h2v1h-2zM241 381h2v1h-2zM240 379h1v2h-1zM243 379h1v2h-1zM255 347h2v1h-2zM255 350h2v1h-2zM254 348h1v2h-1zM257 348h1v2h-1zM261 364h2v1h-2zM261 367h2v1h-2zM260 365h1v2h-1zM263 365h1v2h-1zM259 372h3v1h-3zM259 375h3v1h-3zM258 373h1v2h-1zM262 373h1v2h-1zM252 348h2v1h-2zM252 351h2v1h-2zM251 349h1v2h-1zM254 349h1v2h-1zM241 389h3v1h-3zM241 392h3v1h-3zM240 390h1v2h-1zM244 390h1v2h-1zM260 348h3v1h-3zM260 351h3v1h-3zM259 349h1v2h-1zM263 349h1v2h-1zM237 370h3v1h-3zM237 373h3v1h-3zM236 371h1v2h-1zM240 371h1v2h-1zM245 368h2v1h-2zM245 371h2v1h-2zM244 369h1v2h-1zM247 369h1v2h-1zM261 354h3v1h-3zM261 357h3v1h-3zM260 355h1v2h-1zM264 355h1v2h-1zM261 348h3v1h-3zM261 351h3v1h-3zM260 349h1v2h-1zM264 349h1v2h-1zM258 374h2v1h-2zM258 377h2v1h-2zM257 375h1v2h-1zM260 375h1v2h-1zM236 364h2v1h-2zM236 367h2v1h-2zM235 365h1v2h-1zM238 365h1v2h-1zM235 366h2v1h-2zM235 369h2v1h-2zM234 367h1v2h-1zM237 367h1v2h-1zM269 348h3v1h-3zM269 351h3v1h-3zM268 349h1v2h-1zM272 349h1v2h-1zM239 383h3v1h-3zM239 386h3v1h-3zM238 384h1v2h-1zM242 384h1v2h-1zM263 354h2v1h-2zM263 357h2v1h-2zM262 355h1v2h-1zM265 355h1v2h-1zM247 380h3v1h-3zM247 383h3v1h-3zM246 381h1v2h-1zM250 381h1v2h-1zM277 352h3v1h-3zM277 355h3v1h-3zM276 353h1v2h-1zM280 353h1v2h-1zM274 349h3v1h-3zM274 352h3v1h-3zM273 350h1v2h-1zM277 350h1v2h-1zM251 381h3v1h-3zM251 384h3v1h-3zM250 382h1v2h-1zM254 382h1v2h-1zM234 374h3v1h-3zM234 377h3v1h-3zM233 375h1v2h-1zM237 375h1v2h-1zM237 372h3v1h-3zM237 375h3v1h-3zM236 373h1v2h-1zM240 373h1v2h-1zM273 348h2v1h-2zM273 351h2v1h-2zM272 349h1v2h-1zM275 349h1v2h-1zM245 352h3v1h-3zM245 355h3v1h-3zM244 353h1v2h-1zM248 353h1v2h-1zM261 348h2v1h-2zM261 351h2v1h-2zM260 349h1v2h-1zM263 349h1v2h-1zM273 352h3v1h-3zM273 355h3v1h-3zM272 353h1v2h-1zM276 353h1v2h-1zM261 358h3v1h-3zM261 361h3v1h-3zM260 359h1v2h-1zM264 359h1v2h-1zM239 388h3v1h-3zM239 391h3v1h-3zM238 389h1v2h-1zM242 389h1v2h-1zM239 369h3v1h-3zM239 372h3v1h-3zM238 370h1v2h-1zM242 370h1v2h-1zM252 368h3v1h-3zM252 371h3v1h-3zM251 369h1v2h-1zM255 369h1v2h-1zM240 387h3v1h-3zM240 390h3v1h-3zM239 388h1v2h-1zM243 388h1v2h-1zM263 346h3v1h-3zM263 349h3v1h-3zM262 347h1v2h-1zM266 347h1v2h-1zM249 354h2v1h-2zM249 357h2v1h-2zM248 355h1v2h-1zM251 355h1v2h-1zM251 367h3v1h-3zM251 370h3v1h-3zM250 368h1v2h-1zM254 368h1v2h-1zM261 363h3v1h-3zM261 366h3v1h-3zM260 364h1v2h-1zM264 364h1v2h-1zM261 360h2v1h-2zM261 363h2v1h-2zM260 361h1v2h-1zM263 361h1v2h-1zM233 366h2v1h-2zM233 369h2v1h-2zM232 367h1v2h-1zM235 367h1v2h-1zM239 378h2v1h-2zM239 381h2v1h-2zM238 379h1v2h-1zM241 379h1v2h-1zM246 357h3v1h-3zM246 360h3v1h-3zM245 358h1v2h-1zM249 358h1v2h-1zM257 356h3v1h-3zM257 359h3v1h-3zM256 357h1v2h-1zM260 357h1v2h-1zM261 370h2v1h-2zM261 373h2v1h-2zM260 371h1v2h-1zM263 371h1v2h-1zM233 372h2v1h-2zM233 375h2v1h-2zM232 373h1v2h-1zM235 373h1v2h-1zM265 362h3v1h-3zM265 365h3v1h-3zM264 363h1v2h-1zM268 363h1v2h-1zM247 384h3v1h-3zM247 387h3v1h-3zM246 385h1v2h-1zM250 385h1v2h-1zM267 358h3v1h-3zM267 361h3v1h-3zM266 359h1v2h-1zM270 359h1v2h-1zM250 372h2v1h-2zM250 375h2v1h-2zM249 373h1v2h-1zM252 373h1v2h-1zM253 346h3v1h-3zM253 349h3v1h-3zM252 347h1v2h-1zM256 347h1v2h-1zM249 360h3v1h-3zM249 363h3v1h-3zM248 361h1v2h-1zM252 361h1v2h-1zM251 356h2v1h-2zM251 359h2v1h-2zM250 357h1v2h-1zM253 357h1v2h-1zM244 361h3v1h-3zM244 364h3v1h-3zM243 362h1v2h-1zM247 362h1v2h-1zM255 372h2v1h-2zM255 375h2v1h-2zM254 373h1v2h-1zM257 373h1v2h-1zM247 352h3v1h-3zM247 355h3v1h-3zM246 353h1v2h-1zM250 353h1v2h-1zM235 358h3v1h-3zM235 361h3v1h-3zM234 359h1v2h-1zM238 359h1v2h-1zM247 380h3v1h-3zM247 383h3v1h-3zM246 381h1v2h-1zM250 381h1v2h-1zM249 391h3v1h-3zM249 394h3v1h-3zM248 392h1v2h-1zM252 392h1v2h-1zM262 346h2v1h-2zM262 349h2v1h-2zM261 347h1v2h-1zM264 347h1v2h-1zM241 373h2v1h-2zM241 376h2v1h-2zM240 374h1v2h-1zM243 374h1v2h-1zM277 346h3v1h-3zM277 349h3v1h-3zM276 347h1v2h-1zM280 347h1v2h-1zM246 356h2v1h-2zM246 359h2v1h-2zM245 357h1v2h-1zM248 357h1v2h-1zM245 380h2v1h-2zM245 383h2v1h-2zM244 381h1v2h-1zM247 381h1v2h-1zM243 364h2v1h-2zM243 367h2v1h-2zM242 365h1v2h-1zM245 365h1v2h-1zM242 374h3v1h-3zM242 377h3v1h-3zM241 375h1v2h-1zM245 375h1v2h-1zM242 381h3v1h-3zM242 384h3v1h-3zM241 382h1v2h-1zM245 382h1v2h-1zM236 385h3v1h-3zM236 388h3v1h-3zM235 386h1v2h-1zM239 386h1v2h-1zM239 352h3v1h-3zM239 355h3v1h-3zM238 353h1v2h-1zM242 353h1v2h-1zM243 360h3v1h-3zM243 363h3v1h-3zM242 361h1v2h-1zM246 361h1v2h-1zM253 378h2v1h-2zM253 381h2v1h-2zM252 379h1v2h-1zM255 379h1v2h-1zM249 346h3v1h-3zM249 349h3v1h-3zM248 347h1v2h-1zM252 347h1v2h-1zM253 345h3v1h-3zM253 348h3v1h-3zM252 346h1v2h-1zM256 346h1v2h-1zM264 360h3v1h-3zM264 363h3v1h-3zM263 361h1v2h-1zM267 361h1v2h-1zM257 374h3v1h-3zM257 377h3v1h-3zM256 375h1v2h-1zM260 375h1v2h-1zM245 367h2v1h-2zM245 370h2v1h-2zM244 368h1v2h-1zM247 368h1v2h-1zM235 374h2v1h-2zM235 377h2v1h-2zM234 375h1v2h-1zM237 375h1v2h-1zM239 383h2v1h-2zM239 386h2v1h-2zM238 384h1v2h-1zM241 384h1v2h-1zM237 385h2v1h-2zM237 388h2v1h-2zM236 386h1v2h-1zM239 386h1v2h-1zM253 371h2v1h-2zM253 374h2v1h-2zM252 372h1v2h-1zM255 372h1v2h-1zM249 382h2v1h-2zM249 385h2v1h-2zM248 383h1v2h-1zM251 383h1v2h-1zM245 380h3v1h-3zM245 383h3v1h-3zM244 381h1v2h-1zM248 381h1v2h-1zM248 383h3v1h-3zM248 386h3v1h-3zM247 384h1v2h-1zM251 384h1v2h-1zM246 370h3v1h-3zM246 373h3v1h-3zM245 371h1v2h-1zM249 371h1v2h-1zM280 350h2v1h-2zM280 353h2v1h-2zM279 351h1v2h-1zM282 351h1v2h-1zM233 368h3v1h-3zM233 371h3v1h-3zM232 369h1v2h-1zM236 369h1v2h-1zM243 382h3v1h-3zM243 385h3v1h-3zM242 383h1v2h-1zM246 383h1v2h-1zM257 372h3v1h-3zM257 375h3v1h-3zM256 373h1v2h-1zM260 373h1v2h-1zM241 392h3v1h-3zM241 395h3v1h-3zM240 393h1v2h-1zM244 393h1v2h-1zM251 350h3v1h-3zM251 353h3v1h-3zM250 351h1v2h-1zM254 351h1v2h-1zM241 381h3v1h-3zM241 384h3v1h-3zM240 382h1v2h-1zM244 382h1v2h-1zM279 351h3v1h-3zM279 354h3v1h-3zM278 352h1v2h-1zM282 352h1v2h-1zM249 384h2v1h-2zM249 387h2v1h-2zM248 385h1v2h-1zM251 385h1v2h-1zM255 360h3v1h-3zM255 363h3v1h-3zM254 361h1v2h-1zM258 361h1v2h-1zM278 348h2v1h-2zM278 351h2v1h-2zM277 349h1v2h-1zM280 349h1v2h-1zM269 346h2v1h-2zM269 349h2v1h-2zM268 347h1v2h-1zM271 347h1v2h-1zM276 346h2v1h-2zM276 349h2v1h-2zM275 347h1v2h-1zM278 347h1v2h-1zM261 364h3v1h-3zM261 367h3v1h-3zM260 365h1v2h-1zM264 365h1v2h-1zM264 354h3v1h-3zM264 357h3v1h-3zM263 355h1v2h-1zM267 355h1v2h-1zM245 356h2v1h-2zM245 359h2v1h-2zM244 357h1v2h-1zM247 357h1v2h-1zM254 354h3v1h-3zM254 357h3v1h-3zM253 355h1v2h-1zM257 355h1v2h-1zM243 382h3v1h-3zM243 385h3v1h-3zM242 383h1v2h-1zM246 383h1v2h-1zM265 358h2v1h-2zM265 361h2v1h-2zM264 359h1v2h-1zM267 359h1v2h-1zM261 350h3v1h-3zM261 353h3v1h-3zM260 351h1v2h-1zM264 351h1v2h-1zM245 382h2v1h-2zM245 385h2v1h-2zM244 383h1v2h-1zM247 383h1v2h-1zM249 368h2v1h-2zM249 371h2v1h-2zM248 369h1v2h-1zM251 369h1v2h-1zM277 351h3v1h-3zM277 354h3v1h-3zM276 352h1v2h-1zM280 352h1v2h-1zM255 373h3v1h-3zM255 376h3v1h-3zM254 374h1v2h-1zM258 374h1v2h-1zM277 354h3v1h-3zM277 357h3v1h-3zM276 355h1v2h-1zM280 355h1v2h-1zM241 388h3v1h-3zM241 391h3v1h-3zM240 389h1v2h-1zM244 389h1v2h-1zM279 350h3v1h-3zM279 353h3v1h-3zM278 351h1v2h-1zM282 351h1v2h-1zM269 348h2v1h-2zM269 351h2v1h-2zM268 349h1v2h-1zM271 349h1v2h-1zM241 378h3v1h-3zM241 381h3v1h-3zM240 379h1v2h-1zM244 379h1v2h-1zM237 360h3v1h-3zM237 363h3v1h-3zM236 361h1v2h-1zM240 361h1v2h-1zM234 369h3v1h-3zM234 372h3v1h-3zM233 370h1v2h-1zM237 370h1v2h-1zM244 365h2v1h-2zM244 368h2v1h-2zM243 366h1v2h-1zM246 366h1v2h-1zM277 349h3v1h-3zM277 352h3v1h-3zM276 350h1v2h-1zM280 350h1v2h-1zM257 350h3v1h-3zM257 353h3v1h-3zM256 351h1v2h-1zM260 351h1v2h-1zM254 352h2v1h-2zM254 355h2v1h-2zM253 353h1v2h-1zM256 353h1v2h-1zM267 350h2v1h-2zM267 353h2v1h-2zM266 351h1v2h-1zM269 351h1v2h-1zM237 361h3v1h-3zM237 364h3v1h-3zM236 362h1v2h-1zM240 362h1v2h-1zM250 354h2v1h-2zM250 357h2v1h-2zM249 355h1v2h-1zM252 355h1v2h-1zM269 357h3v1h-3zM269 360h3v1h-3zM268 358h1v2h-1zM272 358h1v2h-1zM241 356h3v1h-3zM241 359h3v1h-3zM240 357h1v2h-1zM244 357h1v2h-1zM258 364h3v1h-3zM258 367h3v1h-3zM257 365h1v2h-1zM261 365h1v2h-1zM261 362h3v1h-3zM261 365h3v1h-3zM260 363h1v2h-1zM264 363h1v2h-1zM248 364h3v1h-3zM248 367h3v1h-3zM247 365h1v2h-1zM251 365h1v2h-1zM251 364h3v1h-3zM251 367h3v1h-3zM250 365h1v2h-1zM254 365h1v2h-1zM263 362h2v1h-2zM263 365h2v1h-2zM262 363h1v2h-1zM265 363h1v2h-1zM245 353h2v1h-2zM245 356h2v1h-2zM244 354h1v2h-1zM247 354h1v2h-1zM238 387h3v1h-3zM238 390h3v1h-3zM237 388h1v2h-1zM241 388h1v2h-1zM235 379h3v1h-3zM235 382h3v1h-3zM234 380h1v2h-1zM238 380h1v2h-1zM249 376h2v1h-2zM249 379h2v1h-2zM248 377h1v2h-1zM251 377h1v2h-1zM260 359h3v1h-3zM260 362h3v1h-3zM259 360h1v2h-1zM263 360h1v2h-1zM258 374h2v1h-2zM258 377h2v1h-2zM257 375h1v2h-1zM260 375h1v2h-1zM251 380h3v1h-3zM251 383h3v1h-3zM250 381h1v2h-1zM254 381h1v2h-1zM252 370h3v1h-3zM252 373h3v1h-3zM251 371h1v2h-1zM255 371h1v2h-1zM249 376h3v1h-3zM249 379h3v1h-3zM248 377h1v2h-1zM252 377h1v2h-1zM259 354h2v1h-2zM259 357h2v1h-2zM258 355h1v2h-1zM261 355h1v2h-1zM263 356h2v1h-2zM263 359h2v1h-2zM262 357h1v2h-1zM265 357h1v2h-1zM257 354h3v1h-3zM257 357h3v1h-3zM256 355h1v2h-1zM260 355h1v2h-1zM239 391h2v1h-2zM239 394h2v1h-2zM238 392h1v2h-1zM241 392h1v2h-1zM259 370h3v1h-3zM259 373h3v1h-3zM258 371h1v2h-1zM262 371h1v2h-1zM244 352h2v1h-2zM244 355h2v1h-2zM243 353h1v2h-1zM246 353h1v2h-1zM234 362h2v1h-2zM234 365h2v1h-2zM233 363h1v2h-1zM236 363h1v2h-1zM245 348h2v1h-2zM245 351h2v1h-2zM244 349h1v2h-1zM247 349h1v2h-1zM250 384h3v1h-3zM250 387h3v1h-3zM249 385h1v2h-1zM253 385h1v2h-1zM259 366h3v1h-3zM259 369h3v1h-3zM258 367h1v2h-1zM262 367h1v2h-1zM237 364h3v1h-3zM237 367h3v1h-3zM236 365h1v2h-1zM240 365h1v2h-1zM255 368h3v1h-3zM255 371h3v1h-3zM254 369h1v2h-1zM258 369h1v2h-1zM239 378h3v1h-3zM239 381h3v1h-3zM238 379h1v2h-1zM242 379h1v2h-1zM251 370h2v1h-2zM251 373h2v1h-2zM250 371h1v2h-1zM253 371h1v2h-1zM244 362h3v1h-3zM244 365h3v1h-3zM243 363h1v2h-1zM247 363h1v2h-1zM249 362h2v1h-2zM249 365h2v1h-2zM248 363h1v2h-1zM251 363h1v2h-1zM261 346h3v1h-3zM261 349h3v1h-3zM260 347h1v2h-1zM264 347h1v2h-1zM241 380h2v1h-2zM241 383h2v1h-2zM240 381h1v2h-1zM243 381h1v2h-1zM246 360h2v1h-2zM246 363h2v1h-2zM245 361h1v2h-1zM248 361h1v2h-1zM245 386h3v1h-3zM245 389h3v1h-3zM244 387h1v2h-1zM248 387h1v2h-1zM237 376h2v1h-2zM237 379h2v1h-2zM236 377h1v2h-1zM239 377h1v2h-1zM276 353h3v1h-3zM276 356h3v1h-3zM275 354h1v2h-1zM279 354h1v2h-1zM253 384h3v1h-3zM253 387h3v1h-3zM252 385h1v2h-1zM256 385h1v2h-1zM263 362h3v1h-3zM263 365h3v1h-3zM262 363h1v2h-1zM266 363h1v2h-1zM234 366h2v1h-2zM234 369h2v1h-2zM233 367h1v2h-1zM236 367h1v2h-1zM251 380h3v1h-3zM251 383h3v1h-3zM250 381h1v2h-1zM254 381h1v2h-1zM247 364h3v1h-3zM247 367h3v1h-3zM246 365h1v2h-1zM250 365h1v2h-1zM250 362h3v1h-3zM250 365h3v1h-3zM249 363h1v2h-1zM253 363h1v2h-1zM235 382h3v1h-3zM235 385h3v1h-3zM234 383h1v2h-1zM238 383h1v2h-1zM251 370h2v1h-2zM251 373h2v1h-2zM250 371h1v2h-1zM253 371h1v2h-1zM271 344h3v1h-3zM271 347h3v1h-3zM270 345h1v2h-1zM274 345h1v2h-1zM262 367h2v1h-2zM262 370h2v1h-2zM261 368h1v2h-1zM264 368h1v2h-1zM253 368h2v1h-2zM253 371h2v1h-2zM252 369h1v2h-1zM255 369h1v2h-1zM257 370h3v1h-3zM257 373h3v1h-3zM256 371h1v2h-1zM260 371h1v2h-1zM234 378h2v1h-2zM234 381h2v1h-2zM233 379h1v2h-1zM236 379h1v2h-1zM271 348h3v1h-3zM271 351h3v1h-3zM270 349h1v2h-1zM274 349h1v2h-1zM243 346h3v1h-3zM243 349h3v1h-3zM242 347h1v2h-1zM246 347h1v2h-1zM273 348h3v1h-3zM273 351h3v1h-3zM272 349h1v2h-1zM276 349h1v2h-1zM237 382h3v1h-3zM237 385h3v1h-3zM236 383h1v2h-1zM240 383h1v2h-1zM261 346h2v1h-2zM261 349h2v1h-2zM260 347h1v2h-1zM263 347h1v2h-1zM257 346h2v1h-2zM257 349h2v1h-2zM256 347h1v2h-1zM259 347h1v2h-1zM239 360h3v1h-3zM239 363h3v1h-3zM238 361h1v2h-1zM242 361h1v2h-1zM259 343h3v1h-3zM259 346h3v1h-3zM258 344h1v2h-1zM262 344h1v2h-1zM245 359h3v1h-3zM245 362h3v1h-3zM244 360h1v2h-1zM248 360h1v2h-1zM245 388h3v1h-3zM245 391h3v1h-3zM244 389h1v2h-1zM248 389h1v2h-1zM261 370h2v1h-2zM261 373h2v1h-2zM260 371h1v2h-1zM263 371h1v2h-1zM253 345h3v1h-3zM253 348h3v1h-3zM252 346h1v2h-1zM256 346h1v2h-1zM247 388h3v1h-3zM247 391h3v1h-3zM246 389h1v2h-1zM250 389h1v2h-1zM245 353h3v1h-3zM245 356h3v1h-3zM244 354h1v2h-1zM248 354h1v2h-1zM235 370h3v1h-3zM235 373h3v1h-3zM234 371h1v2h-1zM238 371h1v2h-1zM251 367h2v1h-2zM251 370h2v1h-2zM250 368h1v2h-1zM253 368h1v2h-1zM257 373h3v1h-3zM257 376h3v1h-3zM256 374h1v2h-1zM260 374h1v2h-1zM251 384h3v1h-3zM251 387h3v1h-3zM250 385h1v2h-1zM254 385h1v2h-1zM242 391h2v1h-2zM242 394h2v1h-2zM241 392h1v2h-1zM244 392h1v2h-1zM261 345h2v1h-2zM261 348h2v1h-2zM260 346h1v2h-1zM263 346h1v2h-1zM248 370h3v1h-3zM248 373h3v1h-3zM247 371h1v2h-1zM251 371h1v2h-1zM253 372h2v1h-2zM253 375h2v1h-2zM252 373h1v2h-1zM255 373h1v2h-1zM249 357h3v1h-3zM249 360h3v1h-3zM248 358h1v2h-1zM252 358h1v2h-1zM262 366h3v1h-3zM262 369h3v1h-3zM261 367h1v2h-1zM265 367h1v2h-1zM277 346h3v1h-3zM277 349h3v1h-3zM276 347h1v2h-1zM280 347h1v2h-1zM254 376h3v1h-3zM254 379h3v1h-3zM253 377h1v2h-1zM257 377h1v2h-1zM235 374h3v1h-3zM235 377h3v1h-3zM234 375h1v2h-1zM238 375h1v2h-1zM241 391h3v1h-3zM241 394h3v1h-3zM240 392h1v2h-1zM244 392h1v2h-1zM267 358h3v1h-3zM267 361h3v1h-3zM266 359h1v2h-1zM270 359h1v2h-1zM243 386h2v1h-2zM243 389h2v1h-2zM242 387h1v2h-1zM245 387h1v2h-1zM239 390h3v1h-3zM239 393h3v1h-3zM238 391h1v2h-1zM242 391h1v2h-1zM243 348h2v1h-2zM243 351h2v1h-2zM242 349h1v2h-1zM245 349h1v2h-1zM237 384h3v1h-3zM237 387h3v1h-3zM236 385h1v2h-1zM240 385h1v2h-1zM265 356h2v1h-2zM265 359h2v1h-2zM264 357h1v2h-1zM267 357h1v2h-1zM267 344h3v1h-3zM267 347h3v1h-3zM266 345h1v2h-1zM270 345h1v2h-1zM244 373h3v1h-3zM244 376h3v1h-3zM243 374h1v2h-1zM247 374h1v2h-1zM249 372h3v1h-3zM249 375h3v1h-3zM248 373h1v2h-1zM252 373h1v2h-1zM240 390h2v1h-2zM240 393h2v1h-2zM239 391h1v2h-1zM242 391h1v2h-1zM249 386h2v1h-2zM249 389h2v1h-2zM248 387h1v2h-1zM251 387h1v2h-1zM261 376h3v1h-3zM261 379h3v1h-3zM260 377h1v2h-1zM264 377h1v2h-1zM263 378h2v1h-2zM263 381h2v1h-2zM262 379h1v2h-1zM265 379h1v2h-1zM265 364h3v1h-3zM265 367h3v1h-3zM264 365h1v2h-1zM268 365h1v2h-1zM269 360h2v1h-2zM269 363h2v1h-2zM268 361h1v2h-1zM271 361h1v2h-1zM243 396h2v1h-2zM243 399h2v1h-2zM242 397h1v2h-1zM245 397h1v2h-1zM247 398h3v1h-3zM247 401h3v1h-3zM246 399h1v2h-1zM250 399h1v2h-1zM237 394h2v1h-2zM237 397h2v1h-2zM236 395h1v2h-1zM239 395h1v2h-1zM232 382h2v1h-2zM232 385h2v1h-2zM231 383h1v2h-1zM234 383h1v2h-1zM231 370h3v1h-3zM231 373h3v1h-3zM230 371h1v2h-1zM234 371h1v2h-1zM259 383h2v1h-2zM259 386h2v1h-2zM258 384h1v2h-1zM261 384h1v2h-1zM254 390h3v1h-3zM254 393h3v1h-3zM253 391h1v2h-1zM257 391h1v2h-1z" fill="#f00" shape-rendering="crispEdges"/>
<path d="M78 235V257M79 236V256M80 231V256M81 229V256M82 229V256M83 228V258M84 234V256M85 236V254M86 239V254M87 236V255M88 235V256M89 234V255M90 233V255M91 234V256M92 235V254M93 236V255M94 236V255M95 238V255M96 235V255M97 235V257M98 231V256M99 235V257M100 234V255M101 235V255M102 234V253M103 234V255M104 234V254M105 233V252M106 234V255M107 236V255M108 238V257M109 241V256M110 242V257M111 245V258M112 246V260M113 244V258M114 246V261M115 246V259M116 249V261M117 250V262M118 250V260M119 251V261M120 249V260M121 250V261M122 249V262M123 249V262M124 251V263M125 251V261M126 250V263M127 252V262M128 251V264M129 251V264M130 251V265M131 251V265M132 250V266M133 251V267M134 252V268M135 254V272M136 254V274M137 258V274M138 266V275M139 265V275M140 265V275M141 267V275M142 266V274M143 264V274M144 265V272M145 263V271M146 265V276M147 266V276M148 268V279M149 269V281M150 272V284M151 275V287M152 277V291M153 281V294M154 283V297M155 286V300M156 288V300M157 292V304M158 295V306M159 295V306M160 296V307M161 298V310M162 300V312M163 299V313M164 303V314M165 304V316M166 306V317M167 309V318M168 311V319M169 313V321M170 314V322M171 316V323M172 316V325M173 317V324M174 317V326M175 320V327M176 319V327M177 319V326M178 318V325M179 317V324M180 317V326M181 316V324M182 316V324M183 314V323M184 315V321M185 313V322M186 314V321M187 313V321M188 313V318M189 313V320M190 313V318M191 312V318M192 311V317M193 311V318M194 310V318M195 310V316M196 309V315M197 308V315M198 308V316M199 308V315M200 306V314M201 307V314M202 306V313M203 305V313M204 305V311M205 304V312M206 304V310M207 303V309M208 303V309M209 300V308M210 301V307M211 301V306M212 298V306M213 299V304M214 296V304M215 297V303M216 295V301M217 296V300M218 293V301M219 294V300M220 293V300M221 294V299M222 293V299M223 294V299M224 294V298M225 293V300M226 292V298M227 292V300M228 291V299M229 293V298M230 293V300M231 293V300M232 294V302M233 294V301M234 296V303M235 296V304M236 298V306M237 300V307M238 301V308M239 302V309M240 302V310M241 303V312M242 306V314M243 304V315M244 306V314M245 304V313M246 306V313M247 304V314M248 306V313M249 306V314M250 305V315M251 305V315M252 304V315M253 303V313M254 303V313M255 302V315M256 302V315M257 304V318M258 307V321M259 310V325M260 313V327M261 318V330M262 320V335M263 322V336M264 323V338M265 326V340M266 329V341M267 330V343M268 331V343M269 331V344M270 332V344M271 332V344M272 331V344M273 331V344M274 332V345M275 334V345M276 334V344M277 335V346M278 335V345M279 334V345M280 334V346M281 334V347M282 335V345M283 335V345M284 334V346M285 337V346M286 335V346M287 338V347M288 338V349M289 337V352M290 338V351M291 338V352M292 337V351M293 338V350M294 338V348M295 337V348M296 338V348M297 337V347M298 337V348M299 334V349M300 334V348M301 332V348M302 330V350M303 329V351M304 331V350M305 331V350M306 331V348M307 331V342M308 331V344M309 331V344M310 331V343M311 331V342M312 332V343M313 330V344M314 330V348M315 330V351M316 330V350M317 330V347M318 325V335M319 324V335M320 322V332M321 322V330M322 320V330M323 323V331M324 322V331M325 325V332M326 327V335M327 329V337M328 328V338M329 329V336M330 329V336M331 326V338M332 323V339M333 320V339M334 319V330M335 317V325M336 314V322M337 315V321M338 313V321M339 313V319M340 311V318M341 311V316M342 312V316M343 310V317M344 309V317M345 309V316M346 309V315M347 307V313M348 308V314M349 308V315M350 308V314M351 308V315M352 309V317M353 310V315M354 309V315M355 310V318M356 308V315M357 306V314M358 304V312M359 302V308M360 300V306M361 299V306M362 301V305M363 301V306M364 303V308M365 304V308M366 306V311M367 306V312M368 309V313M369 308V314M370 309V313M371 309V313M372 308V313M373 308V312M374 306V311M375 306V309M376 305V309M377 302V307M378 303V308M379 300V306M380 300V303M381 297V303M382 297V303M383 296V301M384 295V301M385 295V301M386 295V300M387 296V301M388 294V300M389 296V300M390 296V302M391 297V303M392 298V303M393 299V303M394 299V303M395 299V304M396 301V304M397 301V305M398 300V304M399 299V302M400 300V304M401 298V302M402 297V301M403 295V299M404 293V297M405 291V295M406 288V292M407 285V290M408 283V288M409 282V286M410 280V285M411 279V283M412 277V281M413 276V280M414 275V279M415 274V278M416 273V277M417 272V276M418 271V274" stroke="#00f" stroke-width="1.6" fill="none" shape-rendering="crispEdges"/><path d="M403.0 294.2L405.0 290.7L407.0 294.2ZM404.9 289.3L406.9 285.8L408.9 289.3ZM406.8 286.0L408.8 282.5L410.8 286.0ZM408.7 282.8L410.7 279.3L412.7 282.8ZM410.6 280.2L412.6 276.7L414.6 280.2ZM412.5 278.1L414.5 274.6L416.5 278.1ZM414.4 275.9L416.4 272.4L418.4 275.9ZM416.3 273.9L418.3 270.4L420.3 273.9ZM418.2 271.9L420.2 268.4L422.2 271.9ZM420.1 270.0L422.1 266.5L424.1 270.0ZM422.0 268.4L424.0 264.9L426.0 268.4ZM423.9 266.8L425.9 263.3L427.9 266.8ZM425.8 265.4L427.8 261.9L429.8 265.4ZM427.7 263.9L429.7 260.4L431.7 263.9ZM429.6 263.0L431.6 259.5L433.6 263.0ZM431.5 262.1L433.5 258.6L435.5 262.1ZM433.4 261.2L435.4 257.7L437.4 261.2ZM435.3 260.6L437.3 257.1L439.3 260.6ZM437.2 259.9L439.2 256.4L441.2 259.9ZM439.1 259.3L441.1 255.8L443.1 259.3ZM441.0 258.7L443.0 255.2L445.0 258.7ZM442.9 258.3L444.9 254.8L446.9 258.3ZM444.8 258.3L446.8 254.8L448.8 258.3ZM446.7 258.3L448.7 254.8L450.7 258.3ZM448.6 258.9L450.6 255.4L452.6 258.9ZM450.5 259.6L452.5 256.1L454.5 259.6ZM452.4 259.8L454.4 256.2L456.4 259.8Z" fill="none" stroke="#00f" stroke-width="1" shape-rendering="crispEdges"/><path d="M73 222H75.5V244H78V275H76.3V304H73Z" fill="#00f" shape-rendering="crispEdges"/><path d="M82.5 212V232M81.5 212V232M83.5 214V232M81 214h3v2h-3zM80 218h5v1h-5zM81 221h3v3h-3zM80 225h5v2h-5zM80 229h5v3h-5z" fill="none" stroke="#00f" stroke-width="1" shape-rendering="crispEdges"/><path d="M73.5 244v2m0 1v2m0 1v2m0 1v2" stroke="#f00" stroke-width="1" shape-rendering="crispEdges"/><rect x="73" y="212" width="2" height="11" fill="#f00" shape-rendering="crispEdges"/><path d="M330.5 323.0L333.0 319.0L335.5 323.0ZM330.5 328.0L333.0 324.0L335.5 328.0ZM330.5 333.0L333.0 329.0L335.5 333.0ZM331.5 338.0L334.0 334.0L336.5 338.0ZM330.5 343.0L333.0 339.0L335.5 343.0ZM332.5 348.0L335.0 344.0L337.5 348.0ZM300.5 351.0L303.0 347.0L305.5 351.0ZM313.5 352.0L316.0 348.0L318.5 352.0ZM323.5 341.0L326.0 337.0L328.5 341.0ZM296.5 352.0L299.0 348.0L301.5 352.0ZM288.5 353.0L291.0 349.0L293.5 353.0ZM293.5 351.0L296.0 347.0L298.5 351.0ZM72.0 309.5L74.5 305.5L77.0 309.5ZM95.5 234.0L98.0 230.0L100.5 234.0Z" fill="#00f" stroke="#00f" stroke-width="0.6" shape-rendering="crispEdges"/>
<path d="M283 338V341M284 337V340M285 336V339M286 335V338M287 335V337M288 335V337M289 335V338M290 334V336M291 334V337M292 334V337M293 333V336M294 332V335M295 332V336M296 333V335M297 331V335M298 331V333M299 331V333M300 329V335M301 329V334M302 328V334M303 328V333M304 326V331M305 324V329M306 322V327M307 320V325M308 318V323M309 317V323M310 317V322M311 316V321M312 316V321M313 315V320M314 315V320M315 315V320M316 314V320M317 314V319M318 314V319M319 314V319M320 314V319M321 314V319M322 314V319M323 314V319M324 314V319M325 314V319M326 314V319M327 314V319M328 314V319M329 314V319M330 313V318M331 312V317M332 311V316M333 310V315M334 309V315M335 309V314M336 308V313M337 307V312M338 306V311M339 305V311M340 305V310M341 304V309M342 303V308M343 302V307M344 301V307M345 301V306M346 300V305M347 299V304M348 298V304M349 298V303M350 297V302M351 296V301M352 295V301M353 295V300M354 294V299M355 293V298M356 292V297M357 291V297M358 290V296M359 290V295M360 289V294M361 288V293M362 288V293M363 288V293M364 288V294M365 289V294M366 289V294M367 289V294M368 289V294M369 289V294M370 289V294M371 289V294M372 289V294M373 289V294M374 289V294M375 288V294M376 288V294M377 288V293M378 288V293M379 288V293M380 288V293M381 287V293M382 287V292M383 287V292M384 287V292M385 287V292M386 287V292M387 287V292M388 286V292M389 286V291M390 286V291M391 286V291M392 286V291M393 286V291M394 286V291M395 286V291M396 285V291M397 285V290M398 285V290M399 285V290M400 284V289M401 282V288M402 281V286M403 280V285M404 279V284M405 278V283M406 277V282M407 276V281M408 274V280M409 273V278M410 273V277M411 272V276" stroke="#f00" stroke-width="1.6" fill="none" shape-rendering="crispEdges"/><path d="M269 333.7L270 333.0L271 334.0L272 333.0L273 333.5L274 332.5L275 333.5L276 332.5L277 333.5L278 332.0L279 333.5L280 333.0L281 334.0L282 334.5L283 335.5L284 336.0L285 335.2L286 334.0L287 334.2L288 332.9L289 331.6L290 332.8L291 332.4L292 332.6L293 332.3L294 331.0L295 331.7L296 329.3L297 330.7L298 329.6L299 329.0L300 328.0L301 326.4L302 327.8L303 326.2L304 323.8L305 322.7L306 321.1L307 319.1L308 317.0L309 314.9L310 315.2L311 313.6L312 314.0L313 313.5L314 314.3L315 314.1L316 313.9L317 313.2L318 313.5L319 312.8L320 312.1L321 312.0L322 312.1L323 312.7L324 312.2L325 312.3L326 312.8L327 312.9L328 313.5L329 312.0L330 312.2L331 311.3L332 309.5L333 308.7L334 307.8L335 307.5L336 306.2L337 305.9L338 304.6L339 304.3L340 303.5L341 303.2L342 302.4L343 300.6L344 299.9L345 299.7L346 299.4L347 298.2L348 297.5L349 296.7L350 295.5L351 295.7L352 294.9L353 293.1L354 292.2L355 291.4L356 291.1L357 290.3L358 289.0L359 288.2L360 288.3L361 286.5L362 286.6L363 287.3L364 287.4L365 287.1L366 288.2L367 287.9L368 288.0L369 287.4L370 287.3L371 287.3L372 288.2L373 287.6L374 287.5L375 286.9L376 287.3L377 286.6L378 287.0L379 286.8L380 286.6L381 285.9L382 285.8L383 286.1L384 286.4L385 286.3L386 285.7L387 285.0L388 285.4L389 284.8L390 285.1L391 285.0L392 284.4L393 284.2L394 284.6L395 284.5L396 283.9L397 283.8L398 283.6L399 283.5L400 282.7L401 281.5L402 280.2L403 278.9L404 277.2L405 276.7L406 276.1L407 274.0L408 272.9L409 272.9L410 271.0L411 270.6L412 270.1L413 268.2L414 268.6L415 267.9L416 266.8L417 265.6L418 265.0L419 265.2L420 265.3" stroke="#000" stroke-width="1.4" fill="none" shape-rendering="crispEdges"/>
<path d="M72.0 362.2L94.1 359.3L94.1 359.3L129.6 359.3L129.6 359.3L158.5 364.9L158.5 364.9L176.7 352.6L176.7 352.5L204.2 318.8L204.2 318.8L228.4 301.8L228.4 301.8L234.7 301.8L234.7 301.8L242.3 319.6L242.3 319.6L263.5 352.7L263.5 352.7L271.1 358.3L271.1 358.3L282.0 349.0L282.0 349.0L296.1 383.5L296.1 383.5L311.3 400.4L311.3 400.3L326.0 405.9L326.0 406.0L344.4 406.0L344.4 406.0L359.7 400.3L359.7 400.3L377.2 400.3L377.2 400.3L408.6 405.9L408.6 405.9L433.8 398.9L433.8 399.0L455.0 385.7M72.0 190.6L104.8 203.8L104.8 203.8L120.4 233.2L120.4 233.2L158.5 254.5L158.5 254.5L223.3 205.1L223.3 205.1L231.2 201.8L231.2 201.8L244.3 211.9L244.3 211.9L253.7 239.9L253.7 239.9L281.5 254.5L281.5 254.5L292.3 296.0L292.3 296.0L411.9 268.0L411.9 268.0L455.0 236.0" stroke="#000" stroke-width="1" fill="none" shape-rendering="crispEdges"/>
</svg></body></html>
